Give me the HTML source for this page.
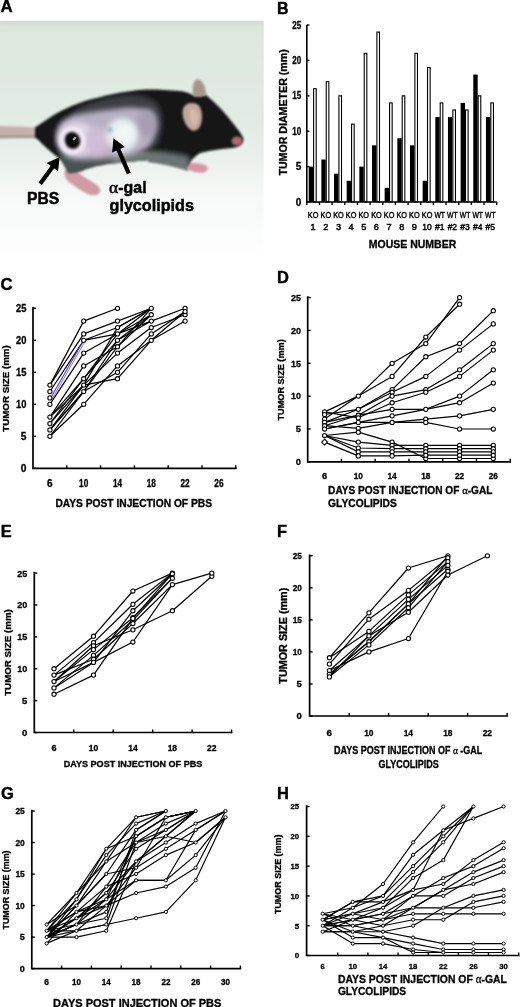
<!DOCTYPE html>
<html><head><meta charset="utf-8"><title>Figure</title>
<style>html,body{margin:0;padding:0;background:#fff;}body{width:520px;height:1007px;overflow:hidden;}svg{display:block;will-change:transform;}</style>
</head><body>
<svg width="520" height="1007" viewBox="0 0 520 1007" font-family="Liberation Sans, sans-serif"><rect width="520" height="1007" fill="#fff"/><defs>
<linearGradient id="bg" x1="0" y1="0" x2="0" y2="1">
<stop offset="0" stop-color="#d8e2d9"/>
<stop offset="0.06" stop-color="#dde8df"/>
<stop offset="0.45" stop-color="#e2ebe4"/>
<stop offset="0.6" stop-color="#eaf0ec"/>
<stop offset="0.74" stop-color="#f5f8f6"/>
<stop offset="1" stop-color="#fdfefd"/>
</linearGradient>
<filter id="b1" x="-20%" y="-20%" width="140%" height="140%"><feGaussianBlur stdDeviation="0.8"/></filter>
<filter id="b2" x="-30%" y="-30%" width="160%" height="160%"><feGaussianBlur stdDeviation="2.5"/></filter>
<filter id="b3" x="-30%" y="-30%" width="160%" height="160%"><feGaussianBlur stdDeviation="4.5"/></filter>
<clipPath id="photoclip"><rect x="0" y="20.7" width="263.8" height="231.3"/></clipPath>
<clipPath id="bodyclip"><path id="bodyp" d="M35,127.5 C40,124 45,121 50,117.5 C55,114 58,112.5 62,110.5 C68,107.5 72,105.5 77,104 C84,101.5 88,100 93,98.8 C102,96.5 110,94.5 118,93 C126,91.5 136,90 146,89.5 C156,89.3 168,90 180,91 C186,92 190,93.5 193,95 L206,95 C212,100 220,107 228,117 C234,125 241,132 243.5,139 C243,144 239,147 232,148 C222,149 212,150 200,153 C195,156 191,160 188,166 C182,165 176,162 168,160.5 C158,159.5 148,160 138,161 C128,162 118,163 108,164 C100,165.5 90,167 82,171 C76,173 72,173.5 68,173 C66,169 64,164 60,159 C52,153 44,146 39,140.5 C37,138.5 36,138 35,137.5 Z"/></clipPath>
</defs><g clip-path="url(#photoclip)"><rect x="0" y="20" width="264" height="232" fill="url(#bg)"/><rect x="0" y="20" width="264" height="5" fill="#d3d9d2" opacity="0.6" filter="url(#b1)"/><path d="M-2,126 L20,126.5 L36,127.5 L37,137.5 L20,137.6 L-2,137.8 Z" fill="#c6b0ad" filter="url(#b1)"/><path d="M-2,135.3 L36,135.3 L37,138 L-2,138.5 Z" fill="#8f807e" opacity="0.55" filter="url(#b1)"/><path d="M65,170 C71,168 78,172 84,177 C90,181 98,184 100.5,189.5 C100.5,195 94,196.5 88.5,194.5 C81,190.5 74,186 69,182 C65,178.5 63.5,174 65,170 Z" fill="#d29aa4" filter="url(#b1)"/><path d="M150,152 C165,154 178,157 190,163 L188,171 C176,167 162,164 148,162 Z" fill="#6d7878" filter="url(#b1)"/><path d="M187,164 C192,162 199,163 205,165 C209,167 208,171 204,172.5 C198,173.5 192,171.5 188,169 Z" fill="#d696a6" filter="url(#b1)"/><g filter="url(#b1)"><use href="#bodyp" fill="#141616"/><g clip-path="url(#bodyclip)"><path d="M60,152 C80,156 100,156 125,153 C145,151 165,152 190,156 L190,178 L60,180 Z" fill="#4a5353" filter="url(#b2)"/><path d="M112,153 C140,149 162,151 188,158 L188,172 L112,170 Z" fill="#6e7674" filter="url(#b2)"/><path d="M72,112 C85,103 105,97 125,95 C142,94 155,98 160,108 C164,120 162,134 157,146 L72,146 Z" fill="#3c3e44" filter="url(#b2)"/><path d="M57,134 C57,123 66,116 80,114 C92,112 104,110 116,109 C130,107 144,107 152,114 C158,123 156,136 150,146 C140,154 126,157 112,158 C96,160 80,161 68,157 C60,152 57,144 57,134 Z" fill="#b8b0c4" filter="url(#b2)"/><ellipse cx="147" cy="123" rx="10" ry="14" fill="#a49eb0" filter="url(#b2)"/><ellipse cx="77" cy="139" rx="20" ry="17" fill="#ddd6e6" filter="url(#b2)"/><ellipse cx="97" cy="141" rx="12" ry="14" fill="#d0bcd4" filter="url(#b2)"/><ellipse cx="122" cy="135" rx="16" ry="17" fill="#e2ecef" filter="url(#b2)"/><ellipse cx="124" cy="134" rx="10" ry="10" fill="#f2f7f8" filter="url(#b2)"/><circle cx="110" cy="130" r="2.5" fill="#5f8f96" opacity="0.6" filter="url(#b1)"/></g></g><ellipse cx="72.5" cy="140.5" rx="11.5" ry="12" fill="none" stroke="#efecf3" stroke-width="4" opacity="0.85" filter="url(#b1)"/><ellipse cx="72.5" cy="140.5" rx="7.5" ry="8.5" fill="#0b0b0b" transform="rotate(-20 72.5 140.5)" filter="url(#b1)"/><ellipse cx="74.5" cy="138.5" rx="2.2" ry="1.1" fill="#d0d0d0" opacity="0.85" transform="rotate(-45 74.5 138.5)"/><path d="M193,96 C192,88 193,81 197,79 C202,79 206,86 206,95 C203,97 197,98 193,96 Z" fill="#a8958b" filter="url(#b1)"/><path d="M183,109 C185,103 191,102 197,104 C202,107 203,116 201,124 C199,130 195,132 191,130 C186,127 181,117 183,109 Z" fill="#c4a79c" filter="url(#b1)"/><path d="M190,110 C193,108 197,110 198,116 C198,122 196,126 194,126 C191,124 189,116 190,110 Z" fill="#dcc3b9" opacity="0.7" filter="url(#b1)"/><ellipse cx="237" cy="141" rx="5.5" ry="4.5" fill="#b46876" filter="url(#b1)"/></g><line x1="40.2" y1="183.8" x2="53.0" y2="166.2" stroke="#000" stroke-width="4.2"/><path d="M59.7,156.9 L58.0,171.1 L46.7,162.9 Z" fill="#000"/><line x1="128.8" y1="173.5" x2="118.1" y2="148.8" stroke="#000" stroke-width="4.2"/><path d="M113.5,138.3 L124.9,147.0 L112.1,152.6 Z" fill="#000"/><text x="27" y="203.8" font-size="16" font-weight="bold" textLength="32.2" lengthAdjust="spacingAndGlyphs" stroke="#000" stroke-width="0.45" fill="#000" >PBS</text><text x="109" y="192.8" font-size="16" fill="#000"><tspan font-family="Liberation Serif, serif" font-size="17.5" stroke="#000" stroke-width="0.45">&#945;</tspan><tspan font-weight="bold" stroke="#000" stroke-width="0.45">-gal</tspan></text><text x="109.5" y="210.8" font-size="16" font-weight="bold" textLength="84.5" lengthAdjust="spacingAndGlyphs" stroke="#000" stroke-width="0.45" fill="#000" >glycolipids</text><rect x="308.70" y="166.60" width="4.4" height="35.40" fill="#000"/><rect x="313.60" y="88.72" width="2.6" height="113.28" fill="#fff" stroke="#000" stroke-width="1.1"/><rect x="321.36" y="159.52" width="4.4" height="42.48" fill="#000"/><rect x="326.26" y="81.64" width="2.6" height="120.36" fill="#fff" stroke="#000" stroke-width="1.1"/><rect x="334.02" y="173.68" width="4.4" height="28.32" fill="#000"/><rect x="338.92" y="95.80" width="2.6" height="106.20" fill="#fff" stroke="#000" stroke-width="1.1"/><rect x="346.68" y="180.76" width="4.4" height="21.24" fill="#000"/><rect x="351.58" y="124.12" width="2.6" height="77.88" fill="#fff" stroke="#000" stroke-width="1.1"/><rect x="359.34" y="166.60" width="4.4" height="35.40" fill="#000"/><rect x="364.24" y="53.32" width="2.6" height="148.68" fill="#fff" stroke="#000" stroke-width="1.1"/><rect x="372.00" y="145.36" width="4.4" height="56.64" fill="#000"/><rect x="376.90" y="32.08" width="2.6" height="169.92" fill="#fff" stroke="#000" stroke-width="1.1"/><rect x="384.66" y="187.84" width="4.4" height="14.16" fill="#000"/><rect x="389.56" y="102.88" width="2.6" height="99.12" fill="#fff" stroke="#000" stroke-width="1.1"/><rect x="397.32" y="138.28" width="4.4" height="63.72" fill="#000"/><rect x="402.22" y="95.80" width="2.6" height="106.20" fill="#fff" stroke="#000" stroke-width="1.1"/><rect x="409.98" y="145.36" width="4.4" height="56.64" fill="#000"/><rect x="414.88" y="53.32" width="2.6" height="148.68" fill="#fff" stroke="#000" stroke-width="1.1"/><rect x="422.64" y="180.76" width="4.4" height="21.24" fill="#000"/><rect x="427.54" y="67.48" width="2.6" height="134.52" fill="#fff" stroke="#000" stroke-width="1.1"/><rect x="435.30" y="117.04" width="4.4" height="84.96" fill="#000"/><rect x="440.20" y="102.88" width="2.6" height="99.12" fill="#fff" stroke="#000" stroke-width="1.1"/><rect x="447.96" y="117.04" width="4.4" height="84.96" fill="#000"/><rect x="452.86" y="109.96" width="2.6" height="92.04" fill="#fff" stroke="#000" stroke-width="1.1"/><rect x="460.62" y="102.88" width="4.4" height="99.12" fill="#000"/><rect x="465.52" y="109.96" width="2.6" height="92.04" fill="#fff" stroke="#000" stroke-width="1.1"/><rect x="473.28" y="74.56" width="4.4" height="127.44" fill="#000"/><rect x="478.18" y="95.80" width="2.6" height="106.20" fill="#fff" stroke="#000" stroke-width="1.1"/><rect x="485.94" y="117.04" width="4.4" height="84.96" fill="#000"/><rect x="490.84" y="102.88" width="2.6" height="99.12" fill="#fff" stroke="#000" stroke-width="1.1"/><path d="M306.8,25 V202 H496.70" fill="none" stroke="#000" stroke-width="1.6"/><line x1="306.80" y1="202.00" x2="309.40" y2="202.00" stroke="#000" stroke-width="1.4"/><line x1="306.80" y1="166.60" x2="309.40" y2="166.60" stroke="#000" stroke-width="1.4"/><line x1="306.80" y1="131.20" x2="309.40" y2="131.20" stroke="#000" stroke-width="1.4"/><line x1="306.80" y1="95.80" x2="309.40" y2="95.80" stroke="#000" stroke-width="1.4"/><line x1="306.80" y1="60.40" x2="309.40" y2="60.40" stroke="#000" stroke-width="1.4"/><line x1="306.80" y1="25.00" x2="309.40" y2="25.00" stroke="#000" stroke-width="1.4"/><line x1="306.80" y1="202.00" x2="306.80" y2="205.00" stroke="#000" stroke-width="1.4"/><line x1="319.46" y1="202.00" x2="319.46" y2="205.00" stroke="#000" stroke-width="1.4"/><line x1="332.12" y1="202.00" x2="332.12" y2="205.00" stroke="#000" stroke-width="1.4"/><line x1="344.78" y1="202.00" x2="344.78" y2="205.00" stroke="#000" stroke-width="1.4"/><line x1="357.44" y1="202.00" x2="357.44" y2="205.00" stroke="#000" stroke-width="1.4"/><line x1="370.10" y1="202.00" x2="370.10" y2="205.00" stroke="#000" stroke-width="1.4"/><line x1="382.76" y1="202.00" x2="382.76" y2="205.00" stroke="#000" stroke-width="1.4"/><line x1="395.42" y1="202.00" x2="395.42" y2="205.00" stroke="#000" stroke-width="1.4"/><line x1="408.08" y1="202.00" x2="408.08" y2="205.00" stroke="#000" stroke-width="1.4"/><line x1="420.74" y1="202.00" x2="420.74" y2="205.00" stroke="#000" stroke-width="1.4"/><line x1="433.40" y1="202.00" x2="433.40" y2="205.00" stroke="#000" stroke-width="1.4"/><line x1="446.06" y1="202.00" x2="446.06" y2="205.00" stroke="#000" stroke-width="1.4"/><line x1="458.72" y1="202.00" x2="458.72" y2="205.00" stroke="#000" stroke-width="1.4"/><line x1="471.38" y1="202.00" x2="471.38" y2="205.00" stroke="#000" stroke-width="1.4"/><line x1="484.04" y1="202.00" x2="484.04" y2="205.00" stroke="#000" stroke-width="1.4"/><line x1="496.70" y1="202.00" x2="496.70" y2="205.00" stroke="#000" stroke-width="1.4"/><text x="301.3" y="205.5" font-size="10" font-weight="bold" text-anchor="end" stroke="#000" stroke-width="0.3" fill="#000" >0</text><text x="301.3" y="170.1" font-size="10" font-weight="bold" text-anchor="end" stroke="#000" stroke-width="0.3" fill="#000" >5</text><text x="301.3" y="134.7" font-size="10" font-weight="bold" text-anchor="end" textLength="9" lengthAdjust="spacingAndGlyphs" stroke="#000" stroke-width="0.3" fill="#000" >10</text><text x="301.3" y="99.3" font-size="10" font-weight="bold" text-anchor="end" textLength="9" lengthAdjust="spacingAndGlyphs" stroke="#000" stroke-width="0.3" fill="#000" >15</text><text x="301.3" y="63.900000000000006" font-size="10" font-weight="bold" text-anchor="end" textLength="9" lengthAdjust="spacingAndGlyphs" stroke="#000" stroke-width="0.3" fill="#000" >20</text><text x="301.3" y="28.5" font-size="10" font-weight="bold" text-anchor="end" textLength="9" lengthAdjust="spacingAndGlyphs" stroke="#000" stroke-width="0.3" fill="#000" >25</text><text x="287.4" y="112.4" font-size="10.6" font-weight="bold" text-anchor="middle" textLength="126.4" lengthAdjust="spacingAndGlyphs" transform="rotate(-90 287.4 112.4)" stroke="#000" stroke-width="0.3" fill="#000" >TUMOR DIAMETER (mm)</text><text x="313.13" y="218" font-size="9.8" font-weight="normal" text-anchor="middle" textLength="10.6" lengthAdjust="spacingAndGlyphs" stroke="#000" stroke-width="0.45" fill="#000" >KO</text><text x="313.13" y="230" font-size="9.2" font-weight="normal" text-anchor="middle" stroke="#000" stroke-width="0.45" fill="#000" >1</text><text x="325.79" y="218" font-size="9.8" font-weight="normal" text-anchor="middle" textLength="10.6" lengthAdjust="spacingAndGlyphs" stroke="#000" stroke-width="0.45" fill="#000" >KO</text><text x="325.79" y="230" font-size="9.2" font-weight="normal" text-anchor="middle" stroke="#000" stroke-width="0.45" fill="#000" >2</text><text x="338.45" y="218" font-size="9.8" font-weight="normal" text-anchor="middle" textLength="10.6" lengthAdjust="spacingAndGlyphs" stroke="#000" stroke-width="0.45" fill="#000" >KO</text><text x="338.45" y="230" font-size="9.2" font-weight="normal" text-anchor="middle" stroke="#000" stroke-width="0.45" fill="#000" >3</text><text x="351.11" y="218" font-size="9.8" font-weight="normal" text-anchor="middle" textLength="10.6" lengthAdjust="spacingAndGlyphs" stroke="#000" stroke-width="0.45" fill="#000" >KO</text><text x="351.11" y="230" font-size="9.2" font-weight="normal" text-anchor="middle" stroke="#000" stroke-width="0.45" fill="#000" >4</text><text x="363.77" y="218" font-size="9.8" font-weight="normal" text-anchor="middle" textLength="10.6" lengthAdjust="spacingAndGlyphs" stroke="#000" stroke-width="0.45" fill="#000" >KO</text><text x="363.77" y="230" font-size="9.2" font-weight="normal" text-anchor="middle" stroke="#000" stroke-width="0.45" fill="#000" >5</text><text x="376.43" y="218" font-size="9.8" font-weight="normal" text-anchor="middle" textLength="10.6" lengthAdjust="spacingAndGlyphs" stroke="#000" stroke-width="0.45" fill="#000" >KO</text><text x="376.43" y="230" font-size="9.2" font-weight="normal" text-anchor="middle" stroke="#000" stroke-width="0.45" fill="#000" >6</text><text x="389.09000000000003" y="218" font-size="9.8" font-weight="normal" text-anchor="middle" textLength="10.6" lengthAdjust="spacingAndGlyphs" stroke="#000" stroke-width="0.45" fill="#000" >KO</text><text x="389.09000000000003" y="230" font-size="9.2" font-weight="normal" text-anchor="middle" stroke="#000" stroke-width="0.45" fill="#000" >7</text><text x="401.75" y="218" font-size="9.8" font-weight="normal" text-anchor="middle" textLength="10.6" lengthAdjust="spacingAndGlyphs" stroke="#000" stroke-width="0.45" fill="#000" >KO</text><text x="401.75" y="230" font-size="9.2" font-weight="normal" text-anchor="middle" stroke="#000" stroke-width="0.45" fill="#000" >8</text><text x="414.41" y="218" font-size="9.8" font-weight="normal" text-anchor="middle" textLength="10.6" lengthAdjust="spacingAndGlyphs" stroke="#000" stroke-width="0.45" fill="#000" >KO</text><text x="414.41" y="230" font-size="9.2" font-weight="normal" text-anchor="middle" stroke="#000" stroke-width="0.45" fill="#000" >9</text><text x="427.07" y="218" font-size="9.8" font-weight="normal" text-anchor="middle" textLength="10.6" lengthAdjust="spacingAndGlyphs" stroke="#000" stroke-width="0.45" fill="#000" >KO</text><text x="427.07" y="230" font-size="9.2" font-weight="normal" text-anchor="middle" textLength="9.5" lengthAdjust="spacingAndGlyphs" stroke="#000" stroke-width="0.45" fill="#000" >10</text><text x="439.73" y="218" font-size="9.8" font-weight="normal" text-anchor="middle" textLength="10.6" lengthAdjust="spacingAndGlyphs" stroke="#000" stroke-width="0.45" fill="#000" >WT</text><text x="439.73" y="230" font-size="9.2" font-weight="normal" text-anchor="middle" textLength="9.5" lengthAdjust="spacingAndGlyphs" stroke="#000" stroke-width="0.45" fill="#000" >#1</text><text x="452.39" y="218" font-size="9.8" font-weight="normal" text-anchor="middle" textLength="10.6" lengthAdjust="spacingAndGlyphs" stroke="#000" stroke-width="0.45" fill="#000" >WT</text><text x="452.39" y="230" font-size="9.2" font-weight="normal" text-anchor="middle" textLength="9.5" lengthAdjust="spacingAndGlyphs" stroke="#000" stroke-width="0.45" fill="#000" >#2</text><text x="465.05" y="218" font-size="9.8" font-weight="normal" text-anchor="middle" textLength="10.6" lengthAdjust="spacingAndGlyphs" stroke="#000" stroke-width="0.45" fill="#000" >WT</text><text x="465.05" y="230" font-size="9.2" font-weight="normal" text-anchor="middle" textLength="9.5" lengthAdjust="spacingAndGlyphs" stroke="#000" stroke-width="0.45" fill="#000" >#3</text><text x="477.71000000000004" y="218" font-size="9.8" font-weight="normal" text-anchor="middle" textLength="10.6" lengthAdjust="spacingAndGlyphs" stroke="#000" stroke-width="0.45" fill="#000" >WT</text><text x="477.71000000000004" y="230" font-size="9.2" font-weight="normal" text-anchor="middle" textLength="9.5" lengthAdjust="spacingAndGlyphs" stroke="#000" stroke-width="0.45" fill="#000" >#4</text><text x="490.37" y="218" font-size="9.8" font-weight="normal" text-anchor="middle" textLength="10.6" lengthAdjust="spacingAndGlyphs" stroke="#000" stroke-width="0.45" fill="#000" >WT</text><text x="490.37" y="230" font-size="9.2" font-weight="normal" text-anchor="middle" textLength="9.5" lengthAdjust="spacingAndGlyphs" stroke="#000" stroke-width="0.45" fill="#000" >#5</text><text x="368.8" y="248" font-size="10.5" font-weight="bold" textLength="87.5" lengthAdjust="spacingAndGlyphs" stroke="#000" stroke-width="0.3" fill="#000" >MOUSE NUMBER</text><path d="M33,307.8 V468.3 H235.80" fill="none" stroke="#000" stroke-width="1.7" stroke-linecap="square"/><line x1="33.00" y1="468.30" x2="36.00" y2="468.30" stroke="#000" stroke-width="1.4"/><line x1="33.00" y1="436.30" x2="36.00" y2="436.30" stroke="#000" stroke-width="1.4"/><line x1="33.00" y1="404.30" x2="36.00" y2="404.30" stroke="#000" stroke-width="1.4"/><line x1="33.00" y1="372.30" x2="36.00" y2="372.30" stroke="#000" stroke-width="1.4"/><line x1="33.00" y1="340.30" x2="36.00" y2="340.30" stroke="#000" stroke-width="1.4"/><line x1="33.00" y1="308.30" x2="36.00" y2="308.30" stroke="#000" stroke-width="1.4"/><line x1="66.80" y1="468.30" x2="66.80" y2="465.30" stroke="#000" stroke-width="1.4"/><line x1="100.60" y1="468.30" x2="100.60" y2="465.30" stroke="#000" stroke-width="1.4"/><line x1="134.40" y1="468.30" x2="134.40" y2="465.30" stroke="#000" stroke-width="1.4"/><line x1="168.20" y1="468.30" x2="168.20" y2="465.30" stroke="#000" stroke-width="1.4"/><line x1="202.00" y1="468.30" x2="202.00" y2="465.30" stroke="#000" stroke-width="1.4"/><line x1="235.80" y1="468.30" x2="235.80" y2="465.30" stroke="#000" stroke-width="1.4"/><text x="26.4" y="471.90000000000003" font-size="10.2" font-weight="bold" text-anchor="end" stroke="#000" stroke-width="0.3" fill="#000" >0</text><text x="26.4" y="439.90000000000003" font-size="10.2" font-weight="bold" text-anchor="end" stroke="#000" stroke-width="0.3" fill="#000" >5</text><text x="26.4" y="407.90000000000003" font-size="10.2" font-weight="bold" text-anchor="end" textLength="10.4" lengthAdjust="spacingAndGlyphs" stroke="#000" stroke-width="0.3" fill="#000" >10</text><text x="26.4" y="375.90000000000003" font-size="10.2" font-weight="bold" text-anchor="end" textLength="10.4" lengthAdjust="spacingAndGlyphs" stroke="#000" stroke-width="0.3" fill="#000" >15</text><text x="26.4" y="343.90000000000003" font-size="10.2" font-weight="bold" text-anchor="end" textLength="10.4" lengthAdjust="spacingAndGlyphs" stroke="#000" stroke-width="0.3" fill="#000" >20</text><text x="26.4" y="311.90000000000003" font-size="10.2" font-weight="bold" text-anchor="end" textLength="10.4" lengthAdjust="spacingAndGlyphs" stroke="#000" stroke-width="0.3" fill="#000" >25</text><text x="49.9" y="486.7" font-size="10" font-weight="bold" text-anchor="middle" stroke="#000" stroke-width="0.3" fill="#000" >6</text><text x="83.69999999999999" y="486.7" font-size="10" font-weight="bold" text-anchor="middle" textLength="9.2" lengthAdjust="spacingAndGlyphs" stroke="#000" stroke-width="0.3" fill="#000" >10</text><text x="117.5" y="486.7" font-size="10" font-weight="bold" text-anchor="middle" textLength="9.2" lengthAdjust="spacingAndGlyphs" stroke="#000" stroke-width="0.3" fill="#000" >14</text><text x="151.29999999999998" y="486.7" font-size="10" font-weight="bold" text-anchor="middle" textLength="9.2" lengthAdjust="spacingAndGlyphs" stroke="#000" stroke-width="0.3" fill="#000" >18</text><text x="185.1" y="486.7" font-size="10" font-weight="bold" text-anchor="middle" textLength="9.2" lengthAdjust="spacingAndGlyphs" stroke="#000" stroke-width="0.3" fill="#000" >22</text><text x="218.89999999999998" y="486.7" font-size="10" font-weight="bold" text-anchor="middle" textLength="9.2" lengthAdjust="spacingAndGlyphs" stroke="#000" stroke-width="0.3" fill="#000" >26</text><text x="9.2" y="388.5" font-size="9.8" font-weight="bold" text-anchor="middle" textLength="86.4" lengthAdjust="spacingAndGlyphs" transform="rotate(-90 9.2 388.5)" stroke="#000" stroke-width="0.3" fill="#000" >TUMOR SIZE (mm)</text><text x="55.4" y="507.1" font-size="10.6" font-weight="bold" textLength="156.6" lengthAdjust="spacingAndGlyphs" stroke="#000" stroke-width="0.3" fill="#000" >DAYS POST INJECTION OF PBS</text><path d="M49.9,385.1 L83.7,321.1 L117.5,308.3" fill="none" stroke="#000" stroke-width="1.2" stroke-linejoin="round"/><path d="M49.9,385.1 L83.7,333.9 L117.5,321.1 L151.3,308.3" fill="none" stroke="#000" stroke-width="1.2" stroke-linejoin="round"/><path d="M49.9,391.5 L83.7,340.3 L117.5,327.5 L151.3,308.3" fill="none" stroke="#000" stroke-width="1.2" stroke-linejoin="round"/><path d="M83.7,340.3 L117.5,333.9 L151.3,308.3" fill="none" stroke="#000" stroke-width="1.2" stroke-linejoin="round"/><path d="M49.9,397.9" fill="none" stroke="#000" stroke-width="1.2" stroke-linejoin="round"/><path d="M49.9,404.3 L83.7,353.1 L117.5,333.9 L151.3,314.7" fill="none" stroke="#000" stroke-width="1.2" stroke-linejoin="round"/><path d="M49.9,417.1 L83.7,365.9 L117.5,346.7 L151.3,308.3" fill="none" stroke="#000" stroke-width="1.2" stroke-linejoin="round"/><path d="M49.9,417.1 L83.7,378.7 L117.5,340.3 L151.3,314.7" fill="none" stroke="#000" stroke-width="1.2" stroke-linejoin="round"/><path d="M49.9,417.1 L83.7,385.1 L117.5,327.5 L151.3,308.3" fill="none" stroke="#000" stroke-width="1.2" stroke-linejoin="round"/><path d="M49.9,423.5 L83.7,378.7 L117.5,333.9 L151.3,321.1 L185.1,308.3" fill="none" stroke="#000" stroke-width="1.2" stroke-linejoin="round"/><path d="M49.9,423.5 L83.7,385.1 L117.5,353.1 L151.3,327.5 L185.1,314.7" fill="none" stroke="#000" stroke-width="1.2" stroke-linejoin="round"/><path d="M49.9,429.9 L83.7,391.5 L117.5,340.3 L151.3,321.1" fill="none" stroke="#000" stroke-width="1.2" stroke-linejoin="round"/><path d="M49.9,429.9 L83.7,385.1 L117.5,378.7 L151.3,340.3 L185.1,321.1" fill="none" stroke="#000" stroke-width="1.2" stroke-linejoin="round"/><path d="M49.9,436.3 L83.7,391.5 L117.5,372.3 L151.3,333.9 L185.1,311.5" fill="none" stroke="#000" stroke-width="1.2" stroke-linejoin="round"/><path d="M49.9,436.3 L83.7,404.3 L117.5,365.9 L151.3,340.3 L185.1,311.5" fill="none" stroke="#000" stroke-width="1.2" stroke-linejoin="round"/><path d="M49.9,429.9 L83.7,391.5 L117.5,346.7 L151.3,314.7" fill="none" stroke="#000" stroke-width="1.2" stroke-linejoin="round"/><path d="M50.9,397.4 L83.7,340.3" stroke="#5a3ec4" stroke-width="1.1" fill="none"/><path d="M52.4,398.4 L84.2,342.9" stroke="#6a50c0" stroke-width="0.8" fill="none"/><circle cx="49.9" cy="385.1" r="2.1" fill="#fff" stroke="#000" stroke-width="1.05"/><circle cx="83.7" cy="321.1" r="2.1" fill="#fff" stroke="#000" stroke-width="1.05"/><circle cx="117.5" cy="308.3" r="2.1" fill="#fff" stroke="#000" stroke-width="1.05"/><circle cx="83.7" cy="333.9" r="2.1" fill="#fff" stroke="#000" stroke-width="1.05"/><circle cx="117.5" cy="321.1" r="2.1" fill="#fff" stroke="#000" stroke-width="1.05"/><circle cx="151.3" cy="308.3" r="2.1" fill="#fff" stroke="#000" stroke-width="1.05"/><circle cx="49.9" cy="391.5" r="2.1" fill="#fff" stroke="#000" stroke-width="1.05"/><circle cx="83.7" cy="340.3" r="2.1" fill="#fff" stroke="#000" stroke-width="1.05"/><circle cx="117.5" cy="327.5" r="2.1" fill="#fff" stroke="#000" stroke-width="1.05"/><circle cx="117.5" cy="333.9" r="2.1" fill="#fff" stroke="#000" stroke-width="1.05"/><circle cx="49.9" cy="397.9" r="2.1" fill="#fff" stroke="#000" stroke-width="1.05"/><circle cx="49.9" cy="404.3" r="2.1" fill="#fff" stroke="#000" stroke-width="1.05"/><circle cx="83.7" cy="353.1" r="2.1" fill="#fff" stroke="#000" stroke-width="1.05"/><circle cx="151.3" cy="314.7" r="2.1" fill="#fff" stroke="#000" stroke-width="1.05"/><circle cx="49.9" cy="417.1" r="2.1" fill="#fff" stroke="#000" stroke-width="1.05"/><circle cx="83.7" cy="365.9" r="2.1" fill="#fff" stroke="#000" stroke-width="1.05"/><circle cx="117.5" cy="346.7" r="2.1" fill="#fff" stroke="#000" stroke-width="1.05"/><circle cx="83.7" cy="378.7" r="2.1" fill="#fff" stroke="#000" stroke-width="1.05"/><circle cx="117.5" cy="340.3" r="2.1" fill="#fff" stroke="#000" stroke-width="1.05"/><circle cx="83.7" cy="385.1" r="2.1" fill="#fff" stroke="#000" stroke-width="1.05"/><circle cx="49.9" cy="423.5" r="2.1" fill="#fff" stroke="#000" stroke-width="1.05"/><circle cx="151.3" cy="321.1" r="2.1" fill="#fff" stroke="#000" stroke-width="1.05"/><circle cx="185.1" cy="308.3" r="2.1" fill="#fff" stroke="#000" stroke-width="1.05"/><circle cx="117.5" cy="353.1" r="2.1" fill="#fff" stroke="#000" stroke-width="1.05"/><circle cx="151.3" cy="327.5" r="2.1" fill="#fff" stroke="#000" stroke-width="1.05"/><circle cx="185.1" cy="314.7" r="2.1" fill="#fff" stroke="#000" stroke-width="1.05"/><circle cx="49.9" cy="429.9" r="2.1" fill="#fff" stroke="#000" stroke-width="1.05"/><circle cx="83.7" cy="391.5" r="2.1" fill="#fff" stroke="#000" stroke-width="1.05"/><circle cx="117.5" cy="378.7" r="2.1" fill="#fff" stroke="#000" stroke-width="1.05"/><circle cx="151.3" cy="340.3" r="2.1" fill="#fff" stroke="#000" stroke-width="1.05"/><circle cx="185.1" cy="321.1" r="2.1" fill="#fff" stroke="#000" stroke-width="1.05"/><circle cx="49.9" cy="436.3" r="2.1" fill="#fff" stroke="#000" stroke-width="1.05"/><circle cx="117.5" cy="372.3" r="2.1" fill="#fff" stroke="#000" stroke-width="1.05"/><circle cx="151.3" cy="333.9" r="2.1" fill="#fff" stroke="#000" stroke-width="1.05"/><circle cx="185.1" cy="311.5" r="2.1" fill="#fff" stroke="#000" stroke-width="1.05"/><circle cx="83.7" cy="404.3" r="2.1" fill="#fff" stroke="#000" stroke-width="1.05"/><circle cx="117.5" cy="365.9" r="2.1" fill="#fff" stroke="#000" stroke-width="1.05"/><path d="M307.7,297.1 V461.8 H510.20" fill="none" stroke="#000" stroke-width="1.7" stroke-linecap="square"/><line x1="307.70" y1="461.80" x2="310.70" y2="461.80" stroke="#000" stroke-width="1.4"/><line x1="307.70" y1="428.96" x2="310.70" y2="428.96" stroke="#000" stroke-width="1.4"/><line x1="307.70" y1="396.12" x2="310.70" y2="396.12" stroke="#000" stroke-width="1.4"/><line x1="307.70" y1="363.28" x2="310.70" y2="363.28" stroke="#000" stroke-width="1.4"/><line x1="307.70" y1="330.44" x2="310.70" y2="330.44" stroke="#000" stroke-width="1.4"/><line x1="307.70" y1="297.60" x2="310.70" y2="297.60" stroke="#000" stroke-width="1.4"/><line x1="341.45" y1="461.80" x2="341.45" y2="458.80" stroke="#000" stroke-width="1.4"/><line x1="375.20" y1="461.80" x2="375.20" y2="458.80" stroke="#000" stroke-width="1.4"/><line x1="408.95" y1="461.80" x2="408.95" y2="458.80" stroke="#000" stroke-width="1.4"/><line x1="442.70" y1="461.80" x2="442.70" y2="458.80" stroke="#000" stroke-width="1.4"/><line x1="476.45" y1="461.80" x2="476.45" y2="458.80" stroke="#000" stroke-width="1.4"/><line x1="510.20" y1="461.80" x2="510.20" y2="458.80" stroke="#000" stroke-width="1.4"/><text x="300.9" y="465.1" font-size="9.3" font-weight="bold" text-anchor="end" stroke="#000" stroke-width="0.3" fill="#000" >0</text><text x="300.9" y="432.26000000000005" font-size="9.3" font-weight="bold" text-anchor="end" stroke="#000" stroke-width="0.3" fill="#000" >5</text><text x="300.9" y="399.42" font-size="9.3" font-weight="bold" text-anchor="end" textLength="10" lengthAdjust="spacingAndGlyphs" stroke="#000" stroke-width="0.3" fill="#000" >10</text><text x="300.9" y="366.58000000000004" font-size="9.3" font-weight="bold" text-anchor="end" textLength="10" lengthAdjust="spacingAndGlyphs" stroke="#000" stroke-width="0.3" fill="#000" >15</text><text x="300.9" y="333.74" font-size="9.3" font-weight="bold" text-anchor="end" textLength="10" lengthAdjust="spacingAndGlyphs" stroke="#000" stroke-width="0.3" fill="#000" >20</text><text x="300.9" y="300.90000000000003" font-size="9.3" font-weight="bold" text-anchor="end" textLength="10" lengthAdjust="spacingAndGlyphs" stroke="#000" stroke-width="0.3" fill="#000" >25</text><text x="324.575" y="478.6" font-size="9.3" font-weight="bold" text-anchor="middle" stroke="#000" stroke-width="0.3" fill="#000" >6</text><text x="358.325" y="478.6" font-size="9.3" font-weight="bold" text-anchor="middle" textLength="9.2" lengthAdjust="spacingAndGlyphs" stroke="#000" stroke-width="0.3" fill="#000" >10</text><text x="392.075" y="478.6" font-size="9.3" font-weight="bold" text-anchor="middle" textLength="9.2" lengthAdjust="spacingAndGlyphs" stroke="#000" stroke-width="0.3" fill="#000" >14</text><text x="425.825" y="478.6" font-size="9.3" font-weight="bold" text-anchor="middle" textLength="9.2" lengthAdjust="spacingAndGlyphs" stroke="#000" stroke-width="0.3" fill="#000" >18</text><text x="459.575" y="478.6" font-size="9.3" font-weight="bold" text-anchor="middle" textLength="9.2" lengthAdjust="spacingAndGlyphs" stroke="#000" stroke-width="0.3" fill="#000" >22</text><text x="493.325" y="478.6" font-size="9.3" font-weight="bold" text-anchor="middle" textLength="9.2" lengthAdjust="spacingAndGlyphs" stroke="#000" stroke-width="0.3" fill="#000" >26</text><text x="284.4" y="379.9" font-size="9.2" font-weight="bold" text-anchor="middle" textLength="81.2" lengthAdjust="spacingAndGlyphs" transform="rotate(-90 284.4 379.9)" stroke="#000" stroke-width="0.3" fill="#000" >TUMOR SIZE (mm)</text><text x="328.1" y="494.4" font-size="10" font-weight="bold" textLength="164.4" lengthAdjust="spacingAndGlyphs" stroke="#000" stroke-width="0.3" fill="#000">DAYS POST INJECTION OF <tspan font-family="Liberation Serif, serif" font-weight="normal" font-size="10.5">&#945;</tspan>-GAL</text><text x="328.1" y="506.5" font-size="10" font-weight="bold" textLength="68.7" lengthAdjust="spacingAndGlyphs" stroke="#000" stroke-width="0.3" fill="#000" >GLYCOLIPIDS</text><path d="M324.6,411.9 L358.3,396.1 L392.1,363.3 L425.8,343.6 L459.6,297.6" fill="none" stroke="#000" stroke-width="1.2" stroke-linejoin="round"/><path d="M324.6,419.1 L358.3,396.1 L392.1,376.4 L425.8,337.0 L459.6,304.2" fill="none" stroke="#000" stroke-width="1.2" stroke-linejoin="round"/><path d="M324.6,414.5 L358.3,409.3 L392.1,389.6 L425.8,356.7 L459.6,343.6 L493.3,310.7" fill="none" stroke="#000" stroke-width="1.2" stroke-linejoin="round"/><path d="M324.6,422.4 L358.3,409.3 L392.1,392.2 L425.8,376.4 L459.6,350.1 L493.3,323.9" fill="none" stroke="#000" stroke-width="1.2" stroke-linejoin="round"/><path d="M324.6,425.7 L358.3,415.2 L392.1,396.1 L425.8,389.6 L459.6,369.8 L493.3,343.6" fill="none" stroke="#000" stroke-width="1.2" stroke-linejoin="round"/><path d="M324.6,411.9 L358.3,417.8 L392.1,402.7 L425.8,392.2 L459.6,376.4 L493.3,350.1" fill="none" stroke="#000" stroke-width="1.2" stroke-linejoin="round"/><path d="M324.6,422.4 L358.3,415.2 L392.1,409.3 L425.8,409.3 L459.6,396.1 L493.3,369.8" fill="none" stroke="#000" stroke-width="1.2" stroke-linejoin="round"/><path d="M324.6,429.0 L358.3,422.4 L392.1,415.8 L425.8,409.3 L459.6,402.7 L493.3,383.0" fill="none" stroke="#000" stroke-width="1.2" stroke-linejoin="round"/><path d="M324.6,425.7 L358.3,428.3 L392.1,422.4 L425.8,419.1 L459.6,415.8 L493.3,409.3" fill="none" stroke="#000" stroke-width="1.2" stroke-linejoin="round"/><path d="M324.6,429.0 L358.3,422.4 L392.1,422.4 L425.8,422.4 L459.6,429.0 L493.3,429.0" fill="none" stroke="#000" stroke-width="1.2" stroke-linejoin="round"/><path d="M324.6,435.5 L358.3,432.2 L392.1,442.1 L425.8,458.5 L459.6,458.5 L493.3,458.5" fill="none" stroke="#000" stroke-width="1.2" stroke-linejoin="round"/><path d="M324.6,435.5 L358.3,442.1 L392.1,445.4 L425.8,445.4 L459.6,445.4 L493.3,445.4" fill="none" stroke="#000" stroke-width="1.2" stroke-linejoin="round"/><path d="M324.6,435.5 L358.3,448.0 L392.1,448.7 L425.8,448.7 L459.6,448.7 L493.3,448.7" fill="none" stroke="#000" stroke-width="1.2" stroke-linejoin="round"/><path d="M324.6,435.5 L358.3,451.9 L392.1,451.9 L425.8,451.9 L459.6,451.9 L493.3,451.9" fill="none" stroke="#000" stroke-width="1.2" stroke-linejoin="round"/><path d="M324.6,442.1 L358.3,455.9 L392.1,455.9 L425.8,455.2 L459.6,455.2 L493.3,455.2" fill="none" stroke="#000" stroke-width="1.2" stroke-linejoin="round"/><circle cx="324.6" cy="411.9" r="2.1" fill="#fff" stroke="#000" stroke-width="1.05"/><circle cx="358.3" cy="396.1" r="2.1" fill="#fff" stroke="#000" stroke-width="1.05"/><circle cx="392.1" cy="363.3" r="2.1" fill="#fff" stroke="#000" stroke-width="1.05"/><circle cx="425.8" cy="343.6" r="2.1" fill="#fff" stroke="#000" stroke-width="1.05"/><circle cx="459.6" cy="297.6" r="2.1" fill="#fff" stroke="#000" stroke-width="1.05"/><circle cx="324.6" cy="419.1" r="2.1" fill="#fff" stroke="#000" stroke-width="1.05"/><circle cx="392.1" cy="376.4" r="2.1" fill="#fff" stroke="#000" stroke-width="1.05"/><circle cx="425.8" cy="337.0" r="2.1" fill="#fff" stroke="#000" stroke-width="1.05"/><circle cx="459.6" cy="304.2" r="2.1" fill="#fff" stroke="#000" stroke-width="1.05"/><circle cx="324.6" cy="414.5" r="2.1" fill="#fff" stroke="#000" stroke-width="1.05"/><circle cx="358.3" cy="409.3" r="2.1" fill="#fff" stroke="#000" stroke-width="1.05"/><circle cx="392.1" cy="389.6" r="2.1" fill="#fff" stroke="#000" stroke-width="1.05"/><circle cx="425.8" cy="356.7" r="2.1" fill="#fff" stroke="#000" stroke-width="1.05"/><circle cx="459.6" cy="343.6" r="2.1" fill="#fff" stroke="#000" stroke-width="1.05"/><circle cx="493.3" cy="310.7" r="2.1" fill="#fff" stroke="#000" stroke-width="1.05"/><circle cx="324.6" cy="422.4" r="2.1" fill="#fff" stroke="#000" stroke-width="1.05"/><circle cx="392.1" cy="392.2" r="2.1" fill="#fff" stroke="#000" stroke-width="1.05"/><circle cx="425.8" cy="376.4" r="2.1" fill="#fff" stroke="#000" stroke-width="1.05"/><circle cx="459.6" cy="350.1" r="2.1" fill="#fff" stroke="#000" stroke-width="1.05"/><circle cx="493.3" cy="323.9" r="2.1" fill="#fff" stroke="#000" stroke-width="1.05"/><circle cx="324.6" cy="425.7" r="2.1" fill="#fff" stroke="#000" stroke-width="1.05"/><circle cx="358.3" cy="415.2" r="2.1" fill="#fff" stroke="#000" stroke-width="1.05"/><circle cx="392.1" cy="396.1" r="2.1" fill="#fff" stroke="#000" stroke-width="1.05"/><circle cx="425.8" cy="389.6" r="2.1" fill="#fff" stroke="#000" stroke-width="1.05"/><circle cx="459.6" cy="369.8" r="2.1" fill="#fff" stroke="#000" stroke-width="1.05"/><circle cx="493.3" cy="343.6" r="2.1" fill="#fff" stroke="#000" stroke-width="1.05"/><circle cx="358.3" cy="417.8" r="2.1" fill="#fff" stroke="#000" stroke-width="1.05"/><circle cx="392.1" cy="402.7" r="2.1" fill="#fff" stroke="#000" stroke-width="1.05"/><circle cx="425.8" cy="392.2" r="2.1" fill="#fff" stroke="#000" stroke-width="1.05"/><circle cx="459.6" cy="376.4" r="2.1" fill="#fff" stroke="#000" stroke-width="1.05"/><circle cx="493.3" cy="350.1" r="2.1" fill="#fff" stroke="#000" stroke-width="1.05"/><circle cx="392.1" cy="409.3" r="2.1" fill="#fff" stroke="#000" stroke-width="1.05"/><circle cx="425.8" cy="409.3" r="2.1" fill="#fff" stroke="#000" stroke-width="1.05"/><circle cx="459.6" cy="396.1" r="2.1" fill="#fff" stroke="#000" stroke-width="1.05"/><circle cx="493.3" cy="369.8" r="2.1" fill="#fff" stroke="#000" stroke-width="1.05"/><circle cx="324.6" cy="429.0" r="2.1" fill="#fff" stroke="#000" stroke-width="1.05"/><circle cx="358.3" cy="422.4" r="2.1" fill="#fff" stroke="#000" stroke-width="1.05"/><circle cx="392.1" cy="415.8" r="2.1" fill="#fff" stroke="#000" stroke-width="1.05"/><circle cx="459.6" cy="402.7" r="2.1" fill="#fff" stroke="#000" stroke-width="1.05"/><circle cx="493.3" cy="383.0" r="2.1" fill="#fff" stroke="#000" stroke-width="1.05"/><circle cx="358.3" cy="428.3" r="2.1" fill="#fff" stroke="#000" stroke-width="1.05"/><circle cx="392.1" cy="422.4" r="2.1" fill="#fff" stroke="#000" stroke-width="1.05"/><circle cx="425.8" cy="419.1" r="2.1" fill="#fff" stroke="#000" stroke-width="1.05"/><circle cx="459.6" cy="415.8" r="2.1" fill="#fff" stroke="#000" stroke-width="1.05"/><circle cx="493.3" cy="409.3" r="2.1" fill="#fff" stroke="#000" stroke-width="1.05"/><circle cx="425.8" cy="422.4" r="2.1" fill="#fff" stroke="#000" stroke-width="1.05"/><circle cx="459.6" cy="429.0" r="2.1" fill="#fff" stroke="#000" stroke-width="1.05"/><circle cx="493.3" cy="429.0" r="2.1" fill="#fff" stroke="#000" stroke-width="1.05"/><circle cx="324.6" cy="435.5" r="2.1" fill="#fff" stroke="#000" stroke-width="1.05"/><circle cx="358.3" cy="432.2" r="2.1" fill="#fff" stroke="#000" stroke-width="1.05"/><circle cx="392.1" cy="442.1" r="2.1" fill="#fff" stroke="#000" stroke-width="1.05"/><circle cx="425.8" cy="458.5" r="2.1" fill="#fff" stroke="#000" stroke-width="1.05"/><circle cx="459.6" cy="458.5" r="2.1" fill="#fff" stroke="#000" stroke-width="1.05"/><circle cx="493.3" cy="458.5" r="2.1" fill="#fff" stroke="#000" stroke-width="1.05"/><circle cx="358.3" cy="442.1" r="2.1" fill="#fff" stroke="#000" stroke-width="1.05"/><circle cx="392.1" cy="445.4" r="2.1" fill="#fff" stroke="#000" stroke-width="1.05"/><circle cx="425.8" cy="445.4" r="2.1" fill="#fff" stroke="#000" stroke-width="1.05"/><circle cx="459.6" cy="445.4" r="2.1" fill="#fff" stroke="#000" stroke-width="1.05"/><circle cx="493.3" cy="445.4" r="2.1" fill="#fff" stroke="#000" stroke-width="1.05"/><circle cx="358.3" cy="448.0" r="2.1" fill="#fff" stroke="#000" stroke-width="1.05"/><circle cx="392.1" cy="448.7" r="2.1" fill="#fff" stroke="#000" stroke-width="1.05"/><circle cx="425.8" cy="448.7" r="2.1" fill="#fff" stroke="#000" stroke-width="1.05"/><circle cx="459.6" cy="448.7" r="2.1" fill="#fff" stroke="#000" stroke-width="1.05"/><circle cx="493.3" cy="448.7" r="2.1" fill="#fff" stroke="#000" stroke-width="1.05"/><circle cx="358.3" cy="451.9" r="2.1" fill="#fff" stroke="#000" stroke-width="1.05"/><circle cx="392.1" cy="451.9" r="2.1" fill="#fff" stroke="#000" stroke-width="1.05"/><circle cx="425.8" cy="451.9" r="2.1" fill="#fff" stroke="#000" stroke-width="1.05"/><circle cx="459.6" cy="451.9" r="2.1" fill="#fff" stroke="#000" stroke-width="1.05"/><circle cx="493.3" cy="451.9" r="2.1" fill="#fff" stroke="#000" stroke-width="1.05"/><circle cx="358.3" cy="455.9" r="2.1" fill="#fff" stroke="#000" stroke-width="1.05"/><circle cx="392.1" cy="455.9" r="2.1" fill="#fff" stroke="#000" stroke-width="1.05"/><circle cx="425.8" cy="455.2" r="2.1" fill="#fff" stroke="#000" stroke-width="1.05"/><circle cx="459.6" cy="455.2" r="2.1" fill="#fff" stroke="#000" stroke-width="1.05"/><circle cx="493.3" cy="455.2" r="2.1" fill="#fff" stroke="#000" stroke-width="1.05"/><path d="M324.6,439.2 L327.5,442.1 L324.6,445.0 L321.7,442.1 Z" fill="#fff" stroke="#000" stroke-width="1.05"/><path d="M34.3,572.6 V732.5 H231.55" fill="none" stroke="#000" stroke-width="1.7" stroke-linecap="square"/><line x1="34.30" y1="732.50" x2="37.30" y2="732.50" stroke="#000" stroke-width="1.4"/><line x1="34.30" y1="700.62" x2="37.30" y2="700.62" stroke="#000" stroke-width="1.4"/><line x1="34.30" y1="668.74" x2="37.30" y2="668.74" stroke="#000" stroke-width="1.4"/><line x1="34.30" y1="636.86" x2="37.30" y2="636.86" stroke="#000" stroke-width="1.4"/><line x1="34.30" y1="604.98" x2="37.30" y2="604.98" stroke="#000" stroke-width="1.4"/><line x1="34.30" y1="573.10" x2="37.30" y2="573.10" stroke="#000" stroke-width="1.4"/><line x1="73.75" y1="732.50" x2="73.75" y2="729.50" stroke="#000" stroke-width="1.4"/><line x1="113.20" y1="732.50" x2="113.20" y2="729.50" stroke="#000" stroke-width="1.4"/><line x1="152.65" y1="732.50" x2="152.65" y2="729.50" stroke="#000" stroke-width="1.4"/><line x1="192.10" y1="732.50" x2="192.10" y2="729.50" stroke="#000" stroke-width="1.4"/><line x1="231.55" y1="732.50" x2="231.55" y2="729.50" stroke="#000" stroke-width="1.4"/><text x="27.2" y="735.9" font-size="9.5" font-weight="bold" text-anchor="end" stroke="#000" stroke-width="0.3" fill="#000" >0</text><text x="27.2" y="704.02" font-size="9.5" font-weight="bold" text-anchor="end" stroke="#000" stroke-width="0.3" fill="#000" >5</text><text x="27.2" y="672.14" font-size="9.5" font-weight="bold" text-anchor="end" textLength="10" lengthAdjust="spacingAndGlyphs" stroke="#000" stroke-width="0.3" fill="#000" >10</text><text x="27.2" y="640.26" font-size="9.5" font-weight="bold" text-anchor="end" textLength="10" lengthAdjust="spacingAndGlyphs" stroke="#000" stroke-width="0.3" fill="#000" >15</text><text x="27.2" y="608.38" font-size="9.5" font-weight="bold" text-anchor="end" textLength="10" lengthAdjust="spacingAndGlyphs" stroke="#000" stroke-width="0.3" fill="#000" >20</text><text x="27.2" y="576.5" font-size="9.5" font-weight="bold" text-anchor="end" textLength="10" lengthAdjust="spacingAndGlyphs" stroke="#000" stroke-width="0.3" fill="#000" >25</text><text x="54.025" y="750.5" font-size="9" font-weight="bold" text-anchor="middle" stroke="#000" stroke-width="0.3" fill="#000" >6</text><text x="93.475" y="750.5" font-size="9" font-weight="bold" text-anchor="middle" textLength="9.5" lengthAdjust="spacingAndGlyphs" stroke="#000" stroke-width="0.3" fill="#000" >10</text><text x="132.925" y="750.5" font-size="9" font-weight="bold" text-anchor="middle" textLength="9.5" lengthAdjust="spacingAndGlyphs" stroke="#000" stroke-width="0.3" fill="#000" >14</text><text x="172.375" y="750.5" font-size="9" font-weight="bold" text-anchor="middle" textLength="9.5" lengthAdjust="spacingAndGlyphs" stroke="#000" stroke-width="0.3" fill="#000" >18</text><text x="211.825" y="750.5" font-size="9" font-weight="bold" text-anchor="middle" textLength="9.5" lengthAdjust="spacingAndGlyphs" stroke="#000" stroke-width="0.3" fill="#000" >22</text><text x="10.6" y="652.5" font-size="9.8" font-weight="bold" text-anchor="middle" textLength="86.7" lengthAdjust="spacingAndGlyphs" transform="rotate(-90 10.6 652.5)" stroke="#000" stroke-width="0.3" fill="#000" >TUMOR SIZE (mm)</text><text x="63.7" y="766.8" font-size="9" font-weight="bold" textLength="138.6" lengthAdjust="spacingAndGlyphs" stroke="#000" stroke-width="0.3" fill="#000" >DAYS POST INJECTION OF PBS</text><path d="M54.0,668.7 L93.5,636.2 L132.9,591.0 L172.4,573.1" fill="none" stroke="#000" stroke-width="1.2" stroke-linejoin="round"/><path d="M54.0,675.1 L93.5,642.6 L132.9,604.3 L172.4,573.1" fill="none" stroke="#000" stroke-width="1.2" stroke-linejoin="round"/><path d="M54.0,681.5 L93.5,645.8 L132.9,629.8 L172.4,610.7 L211.8,576.3" fill="none" stroke="#000" stroke-width="1.2" stroke-linejoin="round"/><path d="M54.0,681.5 L93.5,649.6 L132.9,617.7 L172.4,578.2" fill="none" stroke="#000" stroke-width="1.2" stroke-linejoin="round"/><path d="M54.0,687.9 L93.5,655.4 L132.9,620.3 L172.4,578.2" fill="none" stroke="#000" stroke-width="1.2" stroke-linejoin="round"/><path d="M54.0,675.1 L93.5,659.2 L132.9,623.5 L172.4,584.6 L211.8,573.1" fill="none" stroke="#000" stroke-width="1.2" stroke-linejoin="round"/><path d="M54.0,687.9 L93.5,662.4 L132.9,642.0 L172.4,584.6" fill="none" stroke="#000" stroke-width="1.2" stroke-linejoin="round"/><path d="M54.0,694.2 L93.5,675.1 L132.9,618.4 L172.4,573.7" fill="none" stroke="#000" stroke-width="1.2" stroke-linejoin="round"/><path d="M54.0,681.5 L93.5,662.4 L132.9,610.7 L172.4,573.7" fill="none" stroke="#000" stroke-width="1.2" stroke-linejoin="round"/><circle cx="54.0" cy="668.7" r="2.1" fill="#fff" stroke="#000" stroke-width="1.05"/><circle cx="93.5" cy="636.2" r="2.1" fill="#fff" stroke="#000" stroke-width="1.05"/><circle cx="132.9" cy="591.0" r="2.1" fill="#fff" stroke="#000" stroke-width="1.05"/><circle cx="172.4" cy="573.1" r="2.1" fill="#fff" stroke="#000" stroke-width="1.05"/><circle cx="54.0" cy="675.1" r="2.1" fill="#fff" stroke="#000" stroke-width="1.05"/><circle cx="93.5" cy="642.6" r="2.1" fill="#fff" stroke="#000" stroke-width="1.05"/><circle cx="132.9" cy="604.3" r="2.1" fill="#fff" stroke="#000" stroke-width="1.05"/><circle cx="54.0" cy="681.5" r="2.1" fill="#fff" stroke="#000" stroke-width="1.05"/><circle cx="93.5" cy="645.8" r="2.1" fill="#fff" stroke="#000" stroke-width="1.05"/><circle cx="132.9" cy="629.8" r="2.1" fill="#fff" stroke="#000" stroke-width="1.05"/><circle cx="172.4" cy="610.7" r="2.1" fill="#fff" stroke="#000" stroke-width="1.05"/><circle cx="211.8" cy="576.3" r="2.1" fill="#fff" stroke="#000" stroke-width="1.05"/><circle cx="93.5" cy="649.6" r="2.1" fill="#fff" stroke="#000" stroke-width="1.05"/><circle cx="132.9" cy="617.7" r="2.1" fill="#fff" stroke="#000" stroke-width="1.05"/><circle cx="172.4" cy="578.2" r="2.1" fill="#fff" stroke="#000" stroke-width="1.05"/><circle cx="54.0" cy="687.9" r="2.1" fill="#fff" stroke="#000" stroke-width="1.05"/><circle cx="93.5" cy="655.4" r="2.1" fill="#fff" stroke="#000" stroke-width="1.05"/><circle cx="132.9" cy="620.3" r="2.1" fill="#fff" stroke="#000" stroke-width="1.05"/><circle cx="93.5" cy="659.2" r="2.1" fill="#fff" stroke="#000" stroke-width="1.05"/><circle cx="132.9" cy="623.5" r="2.1" fill="#fff" stroke="#000" stroke-width="1.05"/><circle cx="172.4" cy="584.6" r="2.1" fill="#fff" stroke="#000" stroke-width="1.05"/><circle cx="211.8" cy="573.1" r="2.1" fill="#fff" stroke="#000" stroke-width="1.05"/><circle cx="93.5" cy="662.4" r="2.1" fill="#fff" stroke="#000" stroke-width="1.05"/><circle cx="132.9" cy="642.0" r="2.1" fill="#fff" stroke="#000" stroke-width="1.05"/><circle cx="54.0" cy="694.2" r="2.1" fill="#fff" stroke="#000" stroke-width="1.05"/><circle cx="93.5" cy="675.1" r="2.1" fill="#fff" stroke="#000" stroke-width="1.05"/><circle cx="132.9" cy="618.4" r="2.1" fill="#fff" stroke="#000" stroke-width="1.05"/><circle cx="172.4" cy="573.7" r="2.1" fill="#fff" stroke="#000" stroke-width="1.05"/><circle cx="132.9" cy="610.7" r="2.1" fill="#fff" stroke="#000" stroke-width="1.05"/><path d="M309.6,555.3 V716 H507.10" fill="none" stroke="#000" stroke-width="1.7" stroke-linecap="square"/><line x1="309.60" y1="716.00" x2="312.60" y2="716.00" stroke="#000" stroke-width="1.4"/><line x1="309.60" y1="683.96" x2="312.60" y2="683.96" stroke="#000" stroke-width="1.4"/><line x1="309.60" y1="651.92" x2="312.60" y2="651.92" stroke="#000" stroke-width="1.4"/><line x1="309.60" y1="619.88" x2="312.60" y2="619.88" stroke="#000" stroke-width="1.4"/><line x1="309.60" y1="587.84" x2="312.60" y2="587.84" stroke="#000" stroke-width="1.4"/><line x1="309.60" y1="555.80" x2="312.60" y2="555.80" stroke="#000" stroke-width="1.4"/><line x1="349.10" y1="716.00" x2="349.10" y2="713.00" stroke="#000" stroke-width="1.4"/><line x1="388.60" y1="716.00" x2="388.60" y2="713.00" stroke="#000" stroke-width="1.4"/><line x1="428.10" y1="716.00" x2="428.10" y2="713.00" stroke="#000" stroke-width="1.4"/><line x1="467.60" y1="716.00" x2="467.60" y2="713.00" stroke="#000" stroke-width="1.4"/><line x1="507.10" y1="716.00" x2="507.10" y2="713.00" stroke="#000" stroke-width="1.4"/><text x="301.9" y="719.4" font-size="9.5" font-weight="bold" text-anchor="end" stroke="#000" stroke-width="0.3" fill="#000" >0</text><text x="301.9" y="687.36" font-size="9.5" font-weight="bold" text-anchor="end" stroke="#000" stroke-width="0.3" fill="#000" >5</text><text x="301.9" y="655.3199999999999" font-size="9.5" font-weight="bold" text-anchor="end" textLength="9.2" lengthAdjust="spacingAndGlyphs" stroke="#000" stroke-width="0.3" fill="#000" >10</text><text x="301.9" y="623.28" font-size="9.5" font-weight="bold" text-anchor="end" textLength="9.2" lengthAdjust="spacingAndGlyphs" stroke="#000" stroke-width="0.3" fill="#000" >15</text><text x="301.9" y="591.2399999999999" font-size="9.5" font-weight="bold" text-anchor="end" textLength="9.2" lengthAdjust="spacingAndGlyphs" stroke="#000" stroke-width="0.3" fill="#000" >20</text><text x="301.9" y="559.1999999999999" font-size="9.5" font-weight="bold" text-anchor="end" textLength="9.2" lengthAdjust="spacingAndGlyphs" stroke="#000" stroke-width="0.3" fill="#000" >25</text><text x="329.35" y="735.6" font-size="9.8" font-weight="bold" text-anchor="middle" stroke="#000" stroke-width="0.3" fill="#000" >6</text><text x="368.85" y="735.6" font-size="9.8" font-weight="bold" text-anchor="middle" textLength="9.4" lengthAdjust="spacingAndGlyphs" stroke="#000" stroke-width="0.3" fill="#000" >10</text><text x="408.35" y="735.6" font-size="9.8" font-weight="bold" text-anchor="middle" textLength="9.4" lengthAdjust="spacingAndGlyphs" stroke="#000" stroke-width="0.3" fill="#000" >14</text><text x="447.85" y="735.6" font-size="9.8" font-weight="bold" text-anchor="middle" textLength="9.4" lengthAdjust="spacingAndGlyphs" stroke="#000" stroke-width="0.3" fill="#000" >18</text><text x="487.35" y="735.6" font-size="9.8" font-weight="bold" text-anchor="middle" textLength="9.4" lengthAdjust="spacingAndGlyphs" stroke="#000" stroke-width="0.3" fill="#000" >22</text><text x="287.5" y="635.7" font-size="10.3" font-weight="bold" text-anchor="middle" textLength="96" lengthAdjust="spacingAndGlyphs" transform="rotate(-90 287.5 635.7)" stroke="#000" stroke-width="0.3" fill="#000" >TUMOR SIZE (mm)</text><text x="334.1" y="754" font-size="10" font-weight="bold" textLength="148.2" lengthAdjust="spacingAndGlyphs" stroke="#000" stroke-width="0.3" fill="#000">DAYS POST INJECTION OF <tspan font-family="Liberation Serif, serif" font-weight="normal" font-size="10.5">&#945;</tspan> -GAL</text><text x="378.5" y="767.8" font-size="10" font-weight="bold" textLength="60.3" lengthAdjust="spacingAndGlyphs" stroke="#000" stroke-width="0.3" fill="#000" >GLYCOLIPIDS</text><path d="M329.4,657.7 L368.9,612.8 L408.4,568.0 L447.9,555.8" fill="none" stroke="#000" stroke-width="1.2" stroke-linejoin="round"/><path d="M329.4,664.1 L368.9,619.2 L408.4,590.4 L447.9,557.7" fill="none" stroke="#000" stroke-width="1.2" stroke-linejoin="round"/><path d="M329.4,657.7 L368.9,631.4 L408.4,594.9 L447.9,561.6" fill="none" stroke="#000" stroke-width="1.2" stroke-linejoin="round"/><path d="M329.4,670.5 L368.9,635.9 L408.4,599.4 L447.9,565.4" fill="none" stroke="#000" stroke-width="1.2" stroke-linejoin="round"/><path d="M329.4,674.3 L368.9,641.7 L408.4,603.9 L447.9,569.3" fill="none" stroke="#000" stroke-width="1.2" stroke-linejoin="round"/><path d="M329.4,676.9 L368.9,644.9 L408.4,607.7 L447.9,561.6" fill="none" stroke="#000" stroke-width="1.2" stroke-linejoin="round"/><path d="M329.4,670.5 L368.9,651.9 L408.4,638.5 L447.9,571.2" fill="none" stroke="#000" stroke-width="1.2" stroke-linejoin="round"/><path d="M329.4,676.9 L368.9,635.9 L408.4,612.2 L447.9,575.0 L487.4,555.8" fill="none" stroke="#000" stroke-width="1.2" stroke-linejoin="round"/><path d="M329.4,674.3 L368.9,641.7 L408.4,603.9 L447.9,555.8" fill="none" stroke="#000" stroke-width="1.2" stroke-linejoin="round"/><circle cx="329.4" cy="657.7" r="2.1" fill="#fff" stroke="#000" stroke-width="1.05"/><circle cx="368.9" cy="612.8" r="2.1" fill="#fff" stroke="#000" stroke-width="1.05"/><circle cx="408.4" cy="568.0" r="2.1" fill="#fff" stroke="#000" stroke-width="1.05"/><circle cx="447.9" cy="555.8" r="2.1" fill="#fff" stroke="#000" stroke-width="1.05"/><circle cx="329.4" cy="664.1" r="2.1" fill="#fff" stroke="#000" stroke-width="1.05"/><circle cx="368.9" cy="619.2" r="2.1" fill="#fff" stroke="#000" stroke-width="1.05"/><circle cx="408.4" cy="590.4" r="2.1" fill="#fff" stroke="#000" stroke-width="1.05"/><circle cx="447.9" cy="557.7" r="2.1" fill="#fff" stroke="#000" stroke-width="1.05"/><circle cx="368.9" cy="631.4" r="2.1" fill="#fff" stroke="#000" stroke-width="1.05"/><circle cx="408.4" cy="594.9" r="2.1" fill="#fff" stroke="#000" stroke-width="1.05"/><circle cx="447.9" cy="561.6" r="2.1" fill="#fff" stroke="#000" stroke-width="1.05"/><circle cx="329.4" cy="670.5" r="2.1" fill="#fff" stroke="#000" stroke-width="1.05"/><circle cx="368.9" cy="635.9" r="2.1" fill="#fff" stroke="#000" stroke-width="1.05"/><circle cx="408.4" cy="599.4" r="2.1" fill="#fff" stroke="#000" stroke-width="1.05"/><circle cx="447.9" cy="565.4" r="2.1" fill="#fff" stroke="#000" stroke-width="1.05"/><circle cx="329.4" cy="674.3" r="2.1" fill="#fff" stroke="#000" stroke-width="1.05"/><circle cx="368.9" cy="641.7" r="2.1" fill="#fff" stroke="#000" stroke-width="1.05"/><circle cx="408.4" cy="603.9" r="2.1" fill="#fff" stroke="#000" stroke-width="1.05"/><circle cx="447.9" cy="569.3" r="2.1" fill="#fff" stroke="#000" stroke-width="1.05"/><circle cx="329.4" cy="676.9" r="2.1" fill="#fff" stroke="#000" stroke-width="1.05"/><circle cx="368.9" cy="644.9" r="2.1" fill="#fff" stroke="#000" stroke-width="1.05"/><circle cx="408.4" cy="607.7" r="2.1" fill="#fff" stroke="#000" stroke-width="1.05"/><circle cx="368.9" cy="651.9" r="2.1" fill="#fff" stroke="#000" stroke-width="1.05"/><circle cx="408.4" cy="638.5" r="2.1" fill="#fff" stroke="#000" stroke-width="1.05"/><circle cx="447.9" cy="571.2" r="2.1" fill="#fff" stroke="#000" stroke-width="1.05"/><circle cx="408.4" cy="612.2" r="2.1" fill="#fff" stroke="#000" stroke-width="1.05"/><circle cx="447.9" cy="575.0" r="2.1" fill="#fff" stroke="#000" stroke-width="1.05"/><circle cx="487.4" cy="555.8" r="2.1" fill="#fff" stroke="#000" stroke-width="1.05"/><path d="M31.8,810.5 V968.6 H240.40" fill="none" stroke="#000" stroke-width="1.7" stroke-linecap="square"/><line x1="31.80" y1="968.60" x2="34.80" y2="968.60" stroke="#000" stroke-width="1.4"/><line x1="31.80" y1="937.08" x2="34.80" y2="937.08" stroke="#000" stroke-width="1.4"/><line x1="31.80" y1="905.56" x2="34.80" y2="905.56" stroke="#000" stroke-width="1.4"/><line x1="31.80" y1="874.04" x2="34.80" y2="874.04" stroke="#000" stroke-width="1.4"/><line x1="31.80" y1="842.52" x2="34.80" y2="842.52" stroke="#000" stroke-width="1.4"/><line x1="31.80" y1="811.00" x2="34.80" y2="811.00" stroke="#000" stroke-width="1.4"/><line x1="61.60" y1="968.60" x2="61.60" y2="965.60" stroke="#000" stroke-width="1.4"/><line x1="91.40" y1="968.60" x2="91.40" y2="965.60" stroke="#000" stroke-width="1.4"/><line x1="121.20" y1="968.60" x2="121.20" y2="965.60" stroke="#000" stroke-width="1.4"/><line x1="151.00" y1="968.60" x2="151.00" y2="965.60" stroke="#000" stroke-width="1.4"/><line x1="180.80" y1="968.60" x2="180.80" y2="965.60" stroke="#000" stroke-width="1.4"/><line x1="210.60" y1="968.60" x2="210.60" y2="965.60" stroke="#000" stroke-width="1.4"/><line x1="240.40" y1="968.60" x2="240.40" y2="965.60" stroke="#000" stroke-width="1.4"/><text x="24.8" y="971.8000000000001" font-size="9" font-weight="bold" text-anchor="end" stroke="#000" stroke-width="0.3" fill="#000" >0</text><text x="24.8" y="940.2800000000001" font-size="9" font-weight="bold" text-anchor="end" stroke="#000" stroke-width="0.3" fill="#000" >5</text><text x="24.8" y="908.7600000000001" font-size="9" font-weight="bold" text-anchor="end" textLength="9.4" lengthAdjust="spacingAndGlyphs" stroke="#000" stroke-width="0.3" fill="#000" >10</text><text x="24.8" y="877.24" font-size="9" font-weight="bold" text-anchor="end" textLength="9.4" lengthAdjust="spacingAndGlyphs" stroke="#000" stroke-width="0.3" fill="#000" >15</text><text x="24.8" y="845.72" font-size="9" font-weight="bold" text-anchor="end" textLength="9.4" lengthAdjust="spacingAndGlyphs" stroke="#000" stroke-width="0.3" fill="#000" >20</text><text x="24.8" y="814.2" font-size="9" font-weight="bold" text-anchor="end" textLength="9.4" lengthAdjust="spacingAndGlyphs" stroke="#000" stroke-width="0.3" fill="#000" >25</text><text x="46.7" y="985" font-size="8.5" font-weight="bold" text-anchor="middle" stroke="#000" stroke-width="0.3" fill="#000" >6</text><text x="76.5" y="985" font-size="8.5" font-weight="bold" text-anchor="middle" textLength="9" lengthAdjust="spacingAndGlyphs" stroke="#000" stroke-width="0.3" fill="#000" >10</text><text x="106.3" y="985" font-size="8.5" font-weight="bold" text-anchor="middle" textLength="9" lengthAdjust="spacingAndGlyphs" stroke="#000" stroke-width="0.3" fill="#000" >14</text><text x="136.1" y="985" font-size="8.5" font-weight="bold" text-anchor="middle" textLength="9" lengthAdjust="spacingAndGlyphs" stroke="#000" stroke-width="0.3" fill="#000" >18</text><text x="165.9" y="985" font-size="8.5" font-weight="bold" text-anchor="middle" textLength="9" lengthAdjust="spacingAndGlyphs" stroke="#000" stroke-width="0.3" fill="#000" >22</text><text x="195.70000000000002" y="985" font-size="8.5" font-weight="bold" text-anchor="middle" textLength="9" lengthAdjust="spacingAndGlyphs" stroke="#000" stroke-width="0.3" fill="#000" >26</text><text x="225.50000000000003" y="985" font-size="8.5" font-weight="bold" text-anchor="middle" textLength="9" lengthAdjust="spacingAndGlyphs" stroke="#000" stroke-width="0.3" fill="#000" >30</text><text x="8.6" y="890" font-size="9" font-weight="bold" text-anchor="middle" textLength="79" lengthAdjust="spacingAndGlyphs" transform="rotate(-90 8.6 890)" stroke="#000" stroke-width="0.3" fill="#000" >TUMOR SIZE (mm)</text><text x="53" y="1006.5" font-size="11" font-weight="bold" textLength="168.4" lengthAdjust="spacingAndGlyphs" stroke="#000" stroke-width="0.3" fill="#000" >DAYS POST INJECTION OF PBS</text><path d="M46.7,924.5 L76.5,893.0 L106.3,848.8 L136.1,817.3 L165.9,811.0" fill="none" stroke="#000" stroke-width="1.15" stroke-linejoin="round"/><path d="M46.7,930.8 L76.5,899.3 L106.3,855.1 L136.1,823.6 L165.9,811.0" fill="none" stroke="#000" stroke-width="1.15" stroke-linejoin="round"/><path d="M46.7,930.8 L76.5,893.0 L106.3,861.4 L136.1,817.3 L165.9,811.0" fill="none" stroke="#000" stroke-width="1.15" stroke-linejoin="round"/><path d="M46.7,937.1 L76.5,905.6 L106.3,874.0 L136.1,829.9 L165.9,811.0" fill="none" stroke="#000" stroke-width="1.15" stroke-linejoin="round"/><path d="M46.7,937.1 L76.5,899.3 L106.3,848.8 L136.1,836.2 L165.9,817.3 L195.7,811.0" fill="none" stroke="#000" stroke-width="1.15" stroke-linejoin="round"/><path d="M46.7,930.8 L76.5,911.9 L106.3,886.6 L136.1,842.5 L165.9,823.6 L195.7,811.0" fill="none" stroke="#000" stroke-width="1.15" stroke-linejoin="round"/><path d="M46.7,937.1 L76.5,918.2 L106.3,893.0 L136.1,848.8 L165.9,829.9 L195.7,811.0" fill="none" stroke="#000" stroke-width="1.15" stroke-linejoin="round"/><path d="M46.7,937.1 L76.5,905.6 L106.3,861.4 L136.1,842.5 L165.9,836.2 L195.7,811.0" fill="none" stroke="#000" stroke-width="1.15" stroke-linejoin="round"/><path d="M46.7,943.4 L76.5,911.9 L106.3,899.3 L136.1,861.4 L165.9,842.5 L195.7,823.6 L225.5,811.0" fill="none" stroke="#000" stroke-width="1.15" stroke-linejoin="round"/><path d="M46.7,937.1 L76.5,918.2 L106.3,905.6 L136.1,867.7 L165.9,848.8 L195.7,829.9 L225.5,811.0" fill="none" stroke="#000" stroke-width="1.15" stroke-linejoin="round"/><path d="M46.7,937.1 L76.5,924.5 L106.3,911.9 L136.1,836.2 L165.9,817.3 L195.7,811.0" fill="none" stroke="#000" stroke-width="1.15" stroke-linejoin="round"/><path d="M46.7,930.8 L76.5,924.5 L106.3,918.2 L136.1,829.9 L165.9,811.0" fill="none" stroke="#000" stroke-width="1.15" stroke-linejoin="round"/><path d="M46.7,937.1 L76.5,930.8 L106.3,924.5 L136.1,842.5 L165.9,829.9 L195.7,811.0" fill="none" stroke="#000" stroke-width="1.15" stroke-linejoin="round"/><path d="M46.7,937.1 L76.5,937.1 L106.3,930.8 L136.1,861.4 L165.9,836.2 L195.7,811.0" fill="none" stroke="#000" stroke-width="1.15" stroke-linejoin="round"/><path d="M46.7,937.1 L76.5,918.2 L106.3,899.3 L136.1,880.3 L165.9,880.3 L195.7,855.1 L225.5,817.3" fill="none" stroke="#000" stroke-width="1.15" stroke-linejoin="round"/><path d="M46.7,930.8 L76.5,911.9 L106.3,905.6 L136.1,893.0 L165.9,886.6 L195.7,867.7 L225.5,811.0" fill="none" stroke="#000" stroke-width="1.15" stroke-linejoin="round"/><path d="M46.7,937.1 L76.5,924.5 L106.3,886.6 L136.1,874.0 L165.9,855.1 L195.7,842.5 L225.5,817.3" fill="none" stroke="#000" stroke-width="1.15" stroke-linejoin="round"/><path d="M46.7,930.8 L76.5,930.8 L106.3,924.5 L136.1,918.2 L165.9,911.9 L195.7,880.3 L225.5,817.3" fill="none" stroke="#000" stroke-width="1.15" stroke-linejoin="round"/><path d="M46.7,924.5 L76.5,905.6 L106.3,874.0 L136.1,867.7 L165.9,817.3 L195.7,811.0" fill="none" stroke="#000" stroke-width="1.15" stroke-linejoin="round"/><path d="M46.7,937.1 L76.5,924.5 L106.3,899.3 L136.1,836.2 L165.9,817.3 L195.7,811.0" fill="none" stroke="#000" stroke-width="1.15" stroke-linejoin="round"/><path d="M46.7,943.4 L76.5,930.8 L106.3,905.6 L136.1,880.3 L165.9,880.3 L195.7,829.9 L225.5,811.0" fill="none" stroke="#000" stroke-width="1.15" stroke-linejoin="round"/><path d="M46.7,930.8 L76.5,918.2 L106.3,893.0 L136.1,861.4 L165.9,836.2 L195.7,842.5 L225.5,817.3" fill="none" stroke="#000" stroke-width="1.15" stroke-linejoin="round"/><circle cx="46.7" cy="924.5" r="1.6" fill="#fff" stroke="#000" stroke-width="1.0"/><circle cx="76.5" cy="893.0" r="1.6" fill="#fff" stroke="#000" stroke-width="1.0"/><circle cx="106.3" cy="848.8" r="1.6" fill="#fff" stroke="#000" stroke-width="1.0"/><circle cx="136.1" cy="817.3" r="1.6" fill="#fff" stroke="#000" stroke-width="1.0"/><circle cx="165.9" cy="811.0" r="1.6" fill="#fff" stroke="#000" stroke-width="1.0"/><circle cx="46.7" cy="930.8" r="1.6" fill="#fff" stroke="#000" stroke-width="1.0"/><circle cx="76.5" cy="899.3" r="1.6" fill="#fff" stroke="#000" stroke-width="1.0"/><circle cx="106.3" cy="855.1" r="1.6" fill="#fff" stroke="#000" stroke-width="1.0"/><circle cx="136.1" cy="823.6" r="1.6" fill="#fff" stroke="#000" stroke-width="1.0"/><circle cx="106.3" cy="861.4" r="1.6" fill="#fff" stroke="#000" stroke-width="1.0"/><circle cx="46.7" cy="937.1" r="1.6" fill="#fff" stroke="#000" stroke-width="1.0"/><circle cx="76.5" cy="905.6" r="1.6" fill="#fff" stroke="#000" stroke-width="1.0"/><circle cx="106.3" cy="874.0" r="1.6" fill="#fff" stroke="#000" stroke-width="1.0"/><circle cx="136.1" cy="829.9" r="1.6" fill="#fff" stroke="#000" stroke-width="1.0"/><circle cx="136.1" cy="836.2" r="1.6" fill="#fff" stroke="#000" stroke-width="1.0"/><circle cx="165.9" cy="817.3" r="1.6" fill="#fff" stroke="#000" stroke-width="1.0"/><circle cx="195.7" cy="811.0" r="1.6" fill="#fff" stroke="#000" stroke-width="1.0"/><circle cx="76.5" cy="911.9" r="1.6" fill="#fff" stroke="#000" stroke-width="1.0"/><circle cx="106.3" cy="886.6" r="1.6" fill="#fff" stroke="#000" stroke-width="1.0"/><circle cx="136.1" cy="842.5" r="1.6" fill="#fff" stroke="#000" stroke-width="1.0"/><circle cx="165.9" cy="823.6" r="1.6" fill="#fff" stroke="#000" stroke-width="1.0"/><circle cx="76.5" cy="918.2" r="1.6" fill="#fff" stroke="#000" stroke-width="1.0"/><circle cx="106.3" cy="893.0" r="1.6" fill="#fff" stroke="#000" stroke-width="1.0"/><circle cx="136.1" cy="848.8" r="1.6" fill="#fff" stroke="#000" stroke-width="1.0"/><circle cx="165.9" cy="829.9" r="1.6" fill="#fff" stroke="#000" stroke-width="1.0"/><circle cx="165.9" cy="836.2" r="1.6" fill="#fff" stroke="#000" stroke-width="1.0"/><circle cx="46.7" cy="943.4" r="1.6" fill="#fff" stroke="#000" stroke-width="1.0"/><circle cx="106.3" cy="899.3" r="1.6" fill="#fff" stroke="#000" stroke-width="1.0"/><circle cx="136.1" cy="861.4" r="1.6" fill="#fff" stroke="#000" stroke-width="1.0"/><circle cx="165.9" cy="842.5" r="1.6" fill="#fff" stroke="#000" stroke-width="1.0"/><circle cx="195.7" cy="823.6" r="1.6" fill="#fff" stroke="#000" stroke-width="1.0"/><circle cx="225.5" cy="811.0" r="1.6" fill="#fff" stroke="#000" stroke-width="1.0"/><circle cx="106.3" cy="905.6" r="1.6" fill="#fff" stroke="#000" stroke-width="1.0"/><circle cx="136.1" cy="867.7" r="1.6" fill="#fff" stroke="#000" stroke-width="1.0"/><circle cx="165.9" cy="848.8" r="1.6" fill="#fff" stroke="#000" stroke-width="1.0"/><circle cx="195.7" cy="829.9" r="1.6" fill="#fff" stroke="#000" stroke-width="1.0"/><circle cx="76.5" cy="924.5" r="1.6" fill="#fff" stroke="#000" stroke-width="1.0"/><circle cx="106.3" cy="911.9" r="1.6" fill="#fff" stroke="#000" stroke-width="1.0"/><circle cx="106.3" cy="918.2" r="1.6" fill="#fff" stroke="#000" stroke-width="1.0"/><circle cx="76.5" cy="930.8" r="1.6" fill="#fff" stroke="#000" stroke-width="1.0"/><circle cx="106.3" cy="924.5" r="1.6" fill="#fff" stroke="#000" stroke-width="1.0"/><circle cx="76.5" cy="937.1" r="1.6" fill="#fff" stroke="#000" stroke-width="1.0"/><circle cx="106.3" cy="930.8" r="1.6" fill="#fff" stroke="#000" stroke-width="1.0"/><circle cx="136.1" cy="880.3" r="1.6" fill="#fff" stroke="#000" stroke-width="1.0"/><circle cx="165.9" cy="880.3" r="1.6" fill="#fff" stroke="#000" stroke-width="1.0"/><circle cx="195.7" cy="855.1" r="1.6" fill="#fff" stroke="#000" stroke-width="1.0"/><circle cx="225.5" cy="817.3" r="1.6" fill="#fff" stroke="#000" stroke-width="1.0"/><circle cx="136.1" cy="893.0" r="1.6" fill="#fff" stroke="#000" stroke-width="1.0"/><circle cx="165.9" cy="886.6" r="1.6" fill="#fff" stroke="#000" stroke-width="1.0"/><circle cx="195.7" cy="867.7" r="1.6" fill="#fff" stroke="#000" stroke-width="1.0"/><circle cx="136.1" cy="874.0" r="1.6" fill="#fff" stroke="#000" stroke-width="1.0"/><circle cx="165.9" cy="855.1" r="1.6" fill="#fff" stroke="#000" stroke-width="1.0"/><circle cx="195.7" cy="842.5" r="1.6" fill="#fff" stroke="#000" stroke-width="1.0"/><circle cx="136.1" cy="918.2" r="1.6" fill="#fff" stroke="#000" stroke-width="1.0"/><circle cx="165.9" cy="911.9" r="1.6" fill="#fff" stroke="#000" stroke-width="1.0"/><circle cx="195.7" cy="880.3" r="1.6" fill="#fff" stroke="#000" stroke-width="1.0"/><path d="M306.6,806.0 V955.5 H518.65" fill="none" stroke="#000" stroke-width="1.7" stroke-linecap="square"/><line x1="306.60" y1="955.50" x2="309.60" y2="955.50" stroke="#000" stroke-width="1.4"/><line x1="306.60" y1="925.70" x2="309.60" y2="925.70" stroke="#000" stroke-width="1.4"/><line x1="306.60" y1="895.90" x2="309.60" y2="895.90" stroke="#000" stroke-width="1.4"/><line x1="306.60" y1="866.10" x2="309.60" y2="866.10" stroke="#000" stroke-width="1.4"/><line x1="306.60" y1="836.30" x2="309.60" y2="836.30" stroke="#000" stroke-width="1.4"/><line x1="306.60" y1="806.50" x2="309.60" y2="806.50" stroke="#000" stroke-width="1.4"/><line x1="337.75" y1="955.50" x2="337.75" y2="952.50" stroke="#000" stroke-width="1.4"/><line x1="367.90" y1="955.50" x2="367.90" y2="952.50" stroke="#000" stroke-width="1.4"/><line x1="398.05" y1="955.50" x2="398.05" y2="952.50" stroke="#000" stroke-width="1.4"/><line x1="428.20" y1="955.50" x2="428.20" y2="952.50" stroke="#000" stroke-width="1.4"/><line x1="458.35" y1="955.50" x2="458.35" y2="952.50" stroke="#000" stroke-width="1.4"/><line x1="488.50" y1="955.50" x2="488.50" y2="952.50" stroke="#000" stroke-width="1.4"/><line x1="518.65" y1="955.50" x2="518.65" y2="952.50" stroke="#000" stroke-width="1.4"/><text x="299.1" y="958.4" font-size="8" font-weight="bold" text-anchor="end" stroke="#000" stroke-width="0.3" fill="#000" >0</text><text x="299.1" y="928.6" font-size="8" font-weight="bold" text-anchor="end" stroke="#000" stroke-width="0.3" fill="#000" >5</text><text x="299.1" y="898.8" font-size="8" font-weight="bold" text-anchor="end" textLength="8.6" lengthAdjust="spacingAndGlyphs" stroke="#000" stroke-width="0.3" fill="#000" >10</text><text x="299.1" y="869.0" font-size="8" font-weight="bold" text-anchor="end" textLength="8.6" lengthAdjust="spacingAndGlyphs" stroke="#000" stroke-width="0.3" fill="#000" >15</text><text x="299.1" y="839.1999999999999" font-size="8" font-weight="bold" text-anchor="end" textLength="8.6" lengthAdjust="spacingAndGlyphs" stroke="#000" stroke-width="0.3" fill="#000" >20</text><text x="299.1" y="809.4" font-size="8" font-weight="bold" text-anchor="end" textLength="8.6" lengthAdjust="spacingAndGlyphs" stroke="#000" stroke-width="0.3" fill="#000" >25</text><text x="322.675" y="969.3" font-size="7.6" font-weight="bold" text-anchor="middle" stroke="#000" stroke-width="0.3" fill="#000" >6</text><text x="352.82500000000005" y="969.3" font-size="7.6" font-weight="bold" text-anchor="middle" textLength="8.6" lengthAdjust="spacingAndGlyphs" stroke="#000" stroke-width="0.3" fill="#000" >10</text><text x="382.975" y="969.3" font-size="7.6" font-weight="bold" text-anchor="middle" textLength="8.6" lengthAdjust="spacingAndGlyphs" stroke="#000" stroke-width="0.3" fill="#000" >14</text><text x="413.125" y="969.3" font-size="7.6" font-weight="bold" text-anchor="middle" textLength="8.6" lengthAdjust="spacingAndGlyphs" stroke="#000" stroke-width="0.3" fill="#000" >18</text><text x="443.275" y="969.3" font-size="7.6" font-weight="bold" text-anchor="middle" textLength="8.6" lengthAdjust="spacingAndGlyphs" stroke="#000" stroke-width="0.3" fill="#000" >22</text><text x="473.425" y="969.3" font-size="7.6" font-weight="bold" text-anchor="middle" textLength="8.6" lengthAdjust="spacingAndGlyphs" stroke="#000" stroke-width="0.3" fill="#000" >26</text><text x="503.57500000000005" y="969.3" font-size="7.6" font-weight="bold" text-anchor="middle" textLength="8.6" lengthAdjust="spacingAndGlyphs" stroke="#000" stroke-width="0.3" fill="#000" >30</text><text x="281.5" y="874.3" font-size="8.2" font-weight="bold" text-anchor="middle" textLength="79.5" lengthAdjust="spacingAndGlyphs" transform="rotate(-90 281.5 874.3)" stroke="#000" stroke-width="0.3" fill="#000" >TUMOR SIZE (mm)</text><text x="337.9" y="982.9" font-size="11" font-weight="bold" textLength="169" lengthAdjust="spacingAndGlyphs" stroke="#000" stroke-width="0.3" fill="#000">DAYS POST INJECTION OF <tspan font-family="Liberation Serif, serif" font-weight="normal" font-size="11.55">&#945;</tspan>-GAL</text><text x="337.9" y="995.4" font-size="11" font-weight="bold" textLength="68.3" lengthAdjust="spacingAndGlyphs" stroke="#000" stroke-width="0.3" fill="#000" >GLYCOLIPIDS</text><path d="M322.7,925.7 L352.8,907.8 L383.0,884.0 L413.1,842.3 L443.3,806.5" fill="none" stroke="#000" stroke-width="1.15" stroke-linejoin="round"/><path d="M322.7,919.7 L352.8,901.9 L383.0,895.9 L413.1,854.8 L443.3,830.3 L473.4,806.5" fill="none" stroke="#000" stroke-width="1.15" stroke-linejoin="round"/><path d="M322.7,913.8 L352.8,907.8 L383.0,895.9 L413.1,866.1 L443.3,836.3 L473.4,806.5" fill="none" stroke="#000" stroke-width="1.15" stroke-linejoin="round"/><path d="M322.7,919.7 L352.8,913.8 L383.0,901.9 L413.1,872.1 L443.3,842.3 L473.4,806.5" fill="none" stroke="#000" stroke-width="1.15" stroke-linejoin="round"/><path d="M322.7,925.7 L352.8,913.8 L383.0,907.8 L413.1,878.0 L443.3,860.1 L473.4,806.5" fill="none" stroke="#000" stroke-width="1.15" stroke-linejoin="round"/><path d="M322.7,919.7 L352.8,901.9 L383.0,901.9 L413.1,889.9 L443.3,830.3 L473.4,818.4 L503.6,806.5" fill="none" stroke="#000" stroke-width="1.15" stroke-linejoin="round"/><path d="M322.7,925.7 L352.8,919.7 L383.0,907.8 L413.1,889.9 L443.3,884.0 L473.4,860.1 L503.6,842.3" fill="none" stroke="#000" stroke-width="1.15" stroke-linejoin="round"/><path d="M322.7,913.8 L352.8,919.7 L383.0,913.8 L413.1,895.9 L443.3,878.0 L473.4,866.1 L503.6,848.2" fill="none" stroke="#000" stroke-width="1.15" stroke-linejoin="round"/><path d="M322.7,931.7 L352.8,919.7 L383.0,913.8 L413.1,907.8 L443.3,889.9 L473.4,872.1 L503.6,860.1" fill="none" stroke="#000" stroke-width="1.15" stroke-linejoin="round"/><path d="M322.7,919.7 L352.8,913.8 L383.0,919.7 L413.1,895.9 L443.3,895.9 L473.4,878.0 L503.6,866.1" fill="none" stroke="#000" stroke-width="1.15" stroke-linejoin="round"/><path d="M322.7,925.7 L352.8,925.7 L383.0,919.7 L413.1,907.8 L443.3,889.9 L473.4,884.0 L503.6,872.1" fill="none" stroke="#000" stroke-width="1.15" stroke-linejoin="round"/><path d="M322.7,919.7 L352.8,931.7 L383.0,925.7 L413.1,919.7 L443.3,919.7 L473.4,901.9 L503.6,895.9" fill="none" stroke="#000" stroke-width="1.15" stroke-linejoin="round"/><path d="M322.7,925.7 L352.8,925.7 L383.0,919.7 L413.1,913.8 L443.3,913.8 L473.4,913.8 L503.6,913.8" fill="none" stroke="#000" stroke-width="1.15" stroke-linejoin="round"/><path d="M322.7,931.7 L352.8,931.7 L383.0,931.7 L413.1,925.7 L443.3,907.8 L473.4,895.9 L503.6,889.9" fill="none" stroke="#000" stroke-width="1.15" stroke-linejoin="round"/><path d="M322.7,913.8 L352.8,925.7 L383.0,931.7 L413.1,937.6 L443.3,943.6 L473.4,943.6 L503.6,943.6" fill="none" stroke="#000" stroke-width="1.15" stroke-linejoin="round"/><path d="M322.7,919.7 L352.8,937.6 L383.0,937.6 L413.1,943.6 L443.3,949.5 L473.4,949.5 L503.6,949.5" fill="none" stroke="#000" stroke-width="1.15" stroke-linejoin="round"/><path d="M322.7,925.7 L352.8,943.6 L383.0,943.6 L413.1,949.5 L443.3,952.5 L473.4,952.5 L503.6,952.5" fill="none" stroke="#000" stroke-width="1.15" stroke-linejoin="round"/><path d="M322.7,931.7 L352.8,931.7 L383.0,937.6 L413.1,952.5 L443.3,952.5 L473.4,952.5 L503.6,952.5" fill="none" stroke="#000" stroke-width="1.15" stroke-linejoin="round"/><path d="M322.7,925.7 L352.8,919.7 L383.0,925.7 L413.1,907.8 L443.3,907.8 L473.4,907.8 L503.6,901.9" fill="none" stroke="#000" stroke-width="1.15" stroke-linejoin="round"/><circle cx="322.7" cy="925.7" r="1.6" fill="#fff" stroke="#000" stroke-width="1.0"/><circle cx="352.8" cy="907.8" r="1.6" fill="#fff" stroke="#000" stroke-width="1.0"/><circle cx="383.0" cy="884.0" r="1.6" fill="#fff" stroke="#000" stroke-width="1.0"/><circle cx="413.1" cy="842.3" r="1.6" fill="#fff" stroke="#000" stroke-width="1.0"/><circle cx="443.3" cy="806.5" r="1.6" fill="#fff" stroke="#000" stroke-width="1.0"/><circle cx="322.7" cy="919.7" r="1.6" fill="#fff" stroke="#000" stroke-width="1.0"/><circle cx="352.8" cy="901.9" r="1.6" fill="#fff" stroke="#000" stroke-width="1.0"/><circle cx="383.0" cy="895.9" r="1.6" fill="#fff" stroke="#000" stroke-width="1.0"/><circle cx="413.1" cy="854.8" r="1.6" fill="#fff" stroke="#000" stroke-width="1.0"/><circle cx="443.3" cy="830.3" r="1.6" fill="#fff" stroke="#000" stroke-width="1.0"/><circle cx="473.4" cy="806.5" r="1.6" fill="#fff" stroke="#000" stroke-width="1.0"/><circle cx="322.7" cy="913.8" r="1.6" fill="#fff" stroke="#000" stroke-width="1.0"/><circle cx="413.1" cy="866.1" r="1.6" fill="#fff" stroke="#000" stroke-width="1.0"/><circle cx="443.3" cy="836.3" r="1.6" fill="#fff" stroke="#000" stroke-width="1.0"/><circle cx="352.8" cy="913.8" r="1.6" fill="#fff" stroke="#000" stroke-width="1.0"/><circle cx="383.0" cy="901.9" r="1.6" fill="#fff" stroke="#000" stroke-width="1.0"/><circle cx="413.1" cy="872.1" r="1.6" fill="#fff" stroke="#000" stroke-width="1.0"/><circle cx="443.3" cy="842.3" r="1.6" fill="#fff" stroke="#000" stroke-width="1.0"/><circle cx="383.0" cy="907.8" r="1.6" fill="#fff" stroke="#000" stroke-width="1.0"/><circle cx="413.1" cy="878.0" r="1.6" fill="#fff" stroke="#000" stroke-width="1.0"/><circle cx="443.3" cy="860.1" r="1.6" fill="#fff" stroke="#000" stroke-width="1.0"/><circle cx="413.1" cy="889.9" r="1.6" fill="#fff" stroke="#000" stroke-width="1.0"/><circle cx="473.4" cy="818.4" r="1.6" fill="#fff" stroke="#000" stroke-width="1.0"/><circle cx="503.6" cy="806.5" r="1.6" fill="#fff" stroke="#000" stroke-width="1.0"/><circle cx="352.8" cy="919.7" r="1.6" fill="#fff" stroke="#000" stroke-width="1.0"/><circle cx="443.3" cy="884.0" r="1.6" fill="#fff" stroke="#000" stroke-width="1.0"/><circle cx="473.4" cy="860.1" r="1.6" fill="#fff" stroke="#000" stroke-width="1.0"/><circle cx="503.6" cy="842.3" r="1.6" fill="#fff" stroke="#000" stroke-width="1.0"/><circle cx="383.0" cy="913.8" r="1.6" fill="#fff" stroke="#000" stroke-width="1.0"/><circle cx="413.1" cy="895.9" r="1.6" fill="#fff" stroke="#000" stroke-width="1.0"/><circle cx="443.3" cy="878.0" r="1.6" fill="#fff" stroke="#000" stroke-width="1.0"/><circle cx="473.4" cy="866.1" r="1.6" fill="#fff" stroke="#000" stroke-width="1.0"/><circle cx="503.6" cy="848.2" r="1.6" fill="#fff" stroke="#000" stroke-width="1.0"/><circle cx="322.7" cy="931.7" r="1.6" fill="#fff" stroke="#000" stroke-width="1.0"/><circle cx="413.1" cy="907.8" r="1.6" fill="#fff" stroke="#000" stroke-width="1.0"/><circle cx="443.3" cy="889.9" r="1.6" fill="#fff" stroke="#000" stroke-width="1.0"/><circle cx="473.4" cy="872.1" r="1.6" fill="#fff" stroke="#000" stroke-width="1.0"/><circle cx="503.6" cy="860.1" r="1.6" fill="#fff" stroke="#000" stroke-width="1.0"/><circle cx="383.0" cy="919.7" r="1.6" fill="#fff" stroke="#000" stroke-width="1.0"/><circle cx="443.3" cy="895.9" r="1.6" fill="#fff" stroke="#000" stroke-width="1.0"/><circle cx="473.4" cy="878.0" r="1.6" fill="#fff" stroke="#000" stroke-width="1.0"/><circle cx="503.6" cy="866.1" r="1.6" fill="#fff" stroke="#000" stroke-width="1.0"/><circle cx="352.8" cy="925.7" r="1.6" fill="#fff" stroke="#000" stroke-width="1.0"/><circle cx="473.4" cy="884.0" r="1.6" fill="#fff" stroke="#000" stroke-width="1.0"/><circle cx="503.6" cy="872.1" r="1.6" fill="#fff" stroke="#000" stroke-width="1.0"/><circle cx="352.8" cy="931.7" r="1.6" fill="#fff" stroke="#000" stroke-width="1.0"/><circle cx="383.0" cy="925.7" r="1.6" fill="#fff" stroke="#000" stroke-width="1.0"/><circle cx="413.1" cy="919.7" r="1.6" fill="#fff" stroke="#000" stroke-width="1.0"/><circle cx="443.3" cy="919.7" r="1.6" fill="#fff" stroke="#000" stroke-width="1.0"/><circle cx="473.4" cy="901.9" r="1.6" fill="#fff" stroke="#000" stroke-width="1.0"/><circle cx="503.6" cy="895.9" r="1.6" fill="#fff" stroke="#000" stroke-width="1.0"/><circle cx="413.1" cy="913.8" r="1.6" fill="#fff" stroke="#000" stroke-width="1.0"/><circle cx="443.3" cy="913.8" r="1.6" fill="#fff" stroke="#000" stroke-width="1.0"/><circle cx="473.4" cy="913.8" r="1.6" fill="#fff" stroke="#000" stroke-width="1.0"/><circle cx="503.6" cy="913.8" r="1.6" fill="#fff" stroke="#000" stroke-width="1.0"/><circle cx="383.0" cy="931.7" r="1.6" fill="#fff" stroke="#000" stroke-width="1.0"/><circle cx="413.1" cy="925.7" r="1.6" fill="#fff" stroke="#000" stroke-width="1.0"/><circle cx="443.3" cy="907.8" r="1.6" fill="#fff" stroke="#000" stroke-width="1.0"/><circle cx="473.4" cy="895.9" r="1.6" fill="#fff" stroke="#000" stroke-width="1.0"/><circle cx="503.6" cy="889.9" r="1.6" fill="#fff" stroke="#000" stroke-width="1.0"/><circle cx="413.1" cy="937.6" r="1.6" fill="#fff" stroke="#000" stroke-width="1.0"/><circle cx="443.3" cy="943.6" r="1.6" fill="#fff" stroke="#000" stroke-width="1.0"/><circle cx="473.4" cy="943.6" r="1.6" fill="#fff" stroke="#000" stroke-width="1.0"/><circle cx="503.6" cy="943.6" r="1.6" fill="#fff" stroke="#000" stroke-width="1.0"/><circle cx="352.8" cy="937.6" r="1.6" fill="#fff" stroke="#000" stroke-width="1.0"/><circle cx="383.0" cy="937.6" r="1.6" fill="#fff" stroke="#000" stroke-width="1.0"/><circle cx="413.1" cy="943.6" r="1.6" fill="#fff" stroke="#000" stroke-width="1.0"/><circle cx="443.3" cy="949.5" r="1.6" fill="#fff" stroke="#000" stroke-width="1.0"/><circle cx="473.4" cy="949.5" r="1.6" fill="#fff" stroke="#000" stroke-width="1.0"/><circle cx="503.6" cy="949.5" r="1.6" fill="#fff" stroke="#000" stroke-width="1.0"/><circle cx="352.8" cy="943.6" r="1.6" fill="#fff" stroke="#000" stroke-width="1.0"/><circle cx="383.0" cy="943.6" r="1.6" fill="#fff" stroke="#000" stroke-width="1.0"/><circle cx="413.1" cy="949.5" r="1.6" fill="#fff" stroke="#000" stroke-width="1.0"/><circle cx="443.3" cy="952.5" r="1.6" fill="#fff" stroke="#000" stroke-width="1.0"/><circle cx="473.4" cy="952.5" r="1.6" fill="#fff" stroke="#000" stroke-width="1.0"/><circle cx="503.6" cy="952.5" r="1.6" fill="#fff" stroke="#000" stroke-width="1.0"/><circle cx="413.1" cy="952.5" r="1.6" fill="#fff" stroke="#000" stroke-width="1.0"/><circle cx="473.4" cy="907.8" r="1.6" fill="#fff" stroke="#000" stroke-width="1.0"/><circle cx="503.6" cy="901.9" r="1.6" fill="#fff" stroke="#000" stroke-width="1.0"/><text x="0.5" y="12.1" font-size="16.8" font-weight="bold" stroke="#000" stroke-width="0.4" fill="#000" >A</text><text x="277" y="14" font-size="16" font-weight="bold" stroke="#000" stroke-width="0.4" fill="#000" >B</text><text x="0.6" y="289.7" font-size="16.8" font-weight="bold" stroke="#000" stroke-width="0.4" fill="#000" >C</text><text x="277.1" y="283.3" font-size="16.5" font-weight="bold" stroke="#000" stroke-width="0.4" fill="#000" >D</text><text x="0.8" y="537" font-size="16.4" font-weight="bold" stroke="#000" stroke-width="0.4" fill="#000" >E</text><text x="277.1" y="537" font-size="16.4" font-weight="bold" stroke="#000" stroke-width="0.4" fill="#000" >F</text><text x="0.9" y="799.2" font-size="16.5" font-weight="bold" stroke="#000" stroke-width="0.4" fill="#000" >G</text><text x="277.1" y="799.3" font-size="16.5" font-weight="bold" stroke="#000" stroke-width="0.4" fill="#000" >H</text></svg>
</body></html>
